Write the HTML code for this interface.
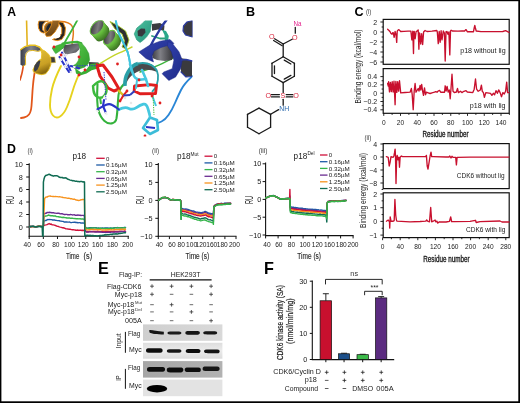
<!DOCTYPE html>
<html><head><meta charset="utf-8"><style>
html,body{margin:0;padding:0;background:#fff;}
svg{display:block;font-family:"Liberation Sans", sans-serif;will-change:transform;}
text{-webkit-font-smoothing:antialiased;}
</style></head><body>
<svg width="520" height="403" viewBox="0 0 520 403">
<rect width="520" height="403" fill="#fff"/>
<text x="7.20" y="15.80" font-size="12.2" text-anchor="start" fill="#000" font-weight="bold" >A</text>
<text x="246.00" y="16.00" font-size="12.6" text-anchor="start" fill="#000" font-weight="bold" >B</text>
<text x="354.40" y="16.00" font-size="12.6" text-anchor="start" fill="#000" font-weight="bold" >C</text>
<text x="6.90" y="152.90" font-size="12.4" text-anchor="start" fill="#000" font-weight="bold" >D</text>
<text x="98.00" y="274.10" font-size="16.3" text-anchor="start" fill="#000" font-weight="bold" >E</text>
<text x="264.10" y="273.90" font-size="16.2" text-anchor="start" fill="#000" font-weight="bold" >F</text>
<rect x="383.20" y="19.40" width="126.00" height="44.90" fill="none" stroke="#111" stroke-width="1.2" />
<line x1="380.40" y1="22.00" x2="383.20" y2="22.00" stroke="#111" stroke-width="0.9" />
<line x1="380.40" y1="32.00" x2="383.20" y2="32.00" stroke="#111" stroke-width="0.9" />
<line x1="380.40" y1="42.00" x2="383.20" y2="42.00" stroke="#111" stroke-width="0.9" />
<line x1="380.40" y1="52.00" x2="383.20" y2="52.00" stroke="#111" stroke-width="0.9" />
<line x1="380.40" y1="62.00" x2="383.20" y2="62.00" stroke="#111" stroke-width="0.9" />
<line x1="381.60" y1="27.00" x2="383.20" y2="27.00" stroke="#111" stroke-width="0.9" />
<line x1="381.60" y1="37.00" x2="383.20" y2="37.00" stroke="#111" stroke-width="0.9" />
<line x1="381.60" y1="47.00" x2="383.20" y2="47.00" stroke="#111" stroke-width="0.9" />
<line x1="381.60" y1="57.00" x2="383.20" y2="57.00" stroke="#111" stroke-width="0.9" />
<text x="377.20" y="24.52" font-size="7.0" text-anchor="end" fill="#1a1a1a" >2</text>
<text x="377.20" y="34.52" font-size="7.0" text-anchor="end" fill="#1a1a1a" >0</text>
<text x="377.20" y="44.52" font-size="7.0" text-anchor="end" fill="#1a1a1a" >−2</text>
<text x="377.20" y="54.52" font-size="7.0" text-anchor="end" fill="#1a1a1a" >−4</text>
<text x="377.20" y="64.52" font-size="7.0" text-anchor="end" fill="#1a1a1a" >−6</text>
<rect x="383.20" y="68.60" width="126.00" height="44.70" fill="none" stroke="#111" stroke-width="1.2" />
<line x1="380.40" y1="76.60" x2="383.20" y2="76.60" stroke="#111" stroke-width="0.9" />
<line x1="380.40" y1="84.90" x2="383.20" y2="84.90" stroke="#111" stroke-width="0.9" />
<line x1="380.40" y1="93.20" x2="383.20" y2="93.20" stroke="#111" stroke-width="0.9" />
<line x1="380.40" y1="101.50" x2="383.20" y2="101.50" stroke="#111" stroke-width="0.9" />
<line x1="380.40" y1="109.80" x2="383.20" y2="109.80" stroke="#111" stroke-width="0.9" />
<line x1="381.60" y1="80.75" x2="383.20" y2="80.75" stroke="#111" stroke-width="0.9" />
<line x1="381.60" y1="89.05" x2="383.20" y2="89.05" stroke="#111" stroke-width="0.9" />
<line x1="381.60" y1="97.35" x2="383.20" y2="97.35" stroke="#111" stroke-width="0.9" />
<line x1="381.60" y1="105.65" x2="383.20" y2="105.65" stroke="#111" stroke-width="0.9" />
<text x="377.20" y="79.12" font-size="7.0" text-anchor="end" fill="#1a1a1a" >0.4</text>
<text x="377.20" y="87.42" font-size="7.0" text-anchor="end" fill="#1a1a1a" >0.2</text>
<text x="377.20" y="95.72" font-size="7.0" text-anchor="end" fill="#1a1a1a" >0</text>
<text x="377.20" y="104.02" font-size="7.0" text-anchor="end" fill="#1a1a1a" >−0.2</text>
<text x="377.20" y="112.32" font-size="7.0" text-anchor="end" fill="#1a1a1a" >−0.4</text>
<line x1="383.75" y1="113.30" x2="383.75" y2="115.90" stroke="#111" stroke-width="0.9" />
<line x1="392.12" y1="113.30" x2="392.12" y2="114.90" stroke="#111" stroke-width="0.9" />
<line x1="400.50" y1="113.30" x2="400.50" y2="115.90" stroke="#111" stroke-width="0.9" />
<line x1="408.88" y1="113.30" x2="408.88" y2="114.90" stroke="#111" stroke-width="0.9" />
<line x1="417.25" y1="113.30" x2="417.25" y2="115.90" stroke="#111" stroke-width="0.9" />
<line x1="425.62" y1="113.30" x2="425.62" y2="114.90" stroke="#111" stroke-width="0.9" />
<line x1="434.00" y1="113.30" x2="434.00" y2="115.90" stroke="#111" stroke-width="0.9" />
<line x1="442.38" y1="113.30" x2="442.38" y2="114.90" stroke="#111" stroke-width="0.9" />
<line x1="450.75" y1="113.30" x2="450.75" y2="115.90" stroke="#111" stroke-width="0.9" />
<line x1="459.12" y1="113.30" x2="459.12" y2="114.90" stroke="#111" stroke-width="0.9" />
<line x1="467.50" y1="113.30" x2="467.50" y2="115.90" stroke="#111" stroke-width="0.9" />
<line x1="475.88" y1="113.30" x2="475.88" y2="114.90" stroke="#111" stroke-width="0.9" />
<line x1="484.25" y1="113.30" x2="484.25" y2="115.90" stroke="#111" stroke-width="0.9" />
<line x1="492.62" y1="113.30" x2="492.62" y2="114.90" stroke="#111" stroke-width="0.9" />
<line x1="501.00" y1="113.30" x2="501.00" y2="115.90" stroke="#111" stroke-width="0.9" />
<line x1="509.38" y1="113.30" x2="509.38" y2="114.90" stroke="#111" stroke-width="0.9" />
<text x="383.75" y="124.80" font-size="6.6" text-anchor="middle" fill="#222" >0</text>
<text x="400.50" y="124.80" font-size="6.6" text-anchor="middle" fill="#222" >20</text>
<text x="417.25" y="124.80" font-size="6.6" text-anchor="middle" fill="#222" >40</text>
<text x="434.00" y="124.80" font-size="6.6" text-anchor="middle" fill="#222" >60</text>
<text x="450.75" y="124.80" font-size="6.6" text-anchor="middle" fill="#222" >80</text>
<text x="467.50" y="124.80" font-size="6.6" text-anchor="middle" fill="#222" >100</text>
<text x="484.25" y="124.80" font-size="6.6" text-anchor="middle" fill="#222" >120</text>
<text x="501.00" y="124.80" font-size="6.6" text-anchor="middle" fill="#222" >140</text>
<text x="445.60" y="137.40" font-size="9" text-anchor="middle" fill="#1a1a1a" textLength="46.2" lengthAdjust="spacingAndGlyphs" stroke="#1a1a1a" stroke-width="0.35">Residue number</text>
<text x="361.00" y="66.50" font-size="8.2" text-anchor="middle" fill="#222" textLength="74" lengthAdjust="spacingAndGlyphs" transform="rotate(-90 361.00 66.50)" >Binding energy (kcal/mol)</text>
<text x="366.00" y="14.40" font-size="7.2" text-anchor="start" fill="#3a3a3a" textLength="5.3" lengthAdjust="spacingAndGlyphs" >(i)</text>
<text x="505.60" y="52.80" font-size="7.1" text-anchor="end" fill="#222" textLength="45.4" lengthAdjust="spacingAndGlyphs" >p18 without lig</text>
<text x="505.60" y="108.20" font-size="7.1" text-anchor="end" fill="#222" textLength="35.8" lengthAdjust="spacingAndGlyphs" >p18 with lig</text>
<rect x="383.20" y="143.60" width="126.00" height="45.00" fill="none" stroke="#111" stroke-width="1.2" />
<line x1="380.40" y1="144.00" x2="383.20" y2="144.00" stroke="#111" stroke-width="0.9" />
<line x1="380.40" y1="157.00" x2="383.20" y2="157.00" stroke="#111" stroke-width="0.9" />
<line x1="380.40" y1="170.00" x2="383.20" y2="170.00" stroke="#111" stroke-width="0.9" />
<line x1="380.40" y1="183.00" x2="383.20" y2="183.00" stroke="#111" stroke-width="0.9" />
<line x1="381.60" y1="150.50" x2="383.20" y2="150.50" stroke="#111" stroke-width="0.9" />
<line x1="381.60" y1="163.50" x2="383.20" y2="163.50" stroke="#111" stroke-width="0.9" />
<line x1="381.60" y1="176.50" x2="383.20" y2="176.50" stroke="#111" stroke-width="0.9" />
<line x1="381.60" y1="189.50" x2="383.20" y2="189.50" stroke="#111" stroke-width="0.9" />
<text x="377.20" y="146.52" font-size="7.0" text-anchor="end" fill="#1a1a1a" >4</text>
<text x="377.20" y="159.52" font-size="7.0" text-anchor="end" fill="#1a1a1a" >0</text>
<text x="377.20" y="172.52" font-size="7.0" text-anchor="end" fill="#1a1a1a" >−4</text>
<text x="377.20" y="185.52" font-size="7.0" text-anchor="end" fill="#1a1a1a" >−8</text>
<rect x="383.20" y="192.80" width="126.00" height="44.80" fill="none" stroke="#111" stroke-width="1.2" />
<line x1="380.40" y1="194.00" x2="383.20" y2="194.00" stroke="#111" stroke-width="0.9" />
<line x1="380.40" y1="207.70" x2="383.20" y2="207.70" stroke="#111" stroke-width="0.9" />
<line x1="380.40" y1="221.40" x2="383.20" y2="221.40" stroke="#111" stroke-width="0.9" />
<line x1="380.40" y1="235.10" x2="383.20" y2="235.10" stroke="#111" stroke-width="0.9" />
<line x1="381.60" y1="200.85" x2="383.20" y2="200.85" stroke="#111" stroke-width="0.9" />
<line x1="381.60" y1="214.55" x2="383.20" y2="214.55" stroke="#111" stroke-width="0.9" />
<line x1="381.60" y1="228.25" x2="383.20" y2="228.25" stroke="#111" stroke-width="0.9" />
<text x="377.20" y="196.52" font-size="7.0" text-anchor="end" fill="#1a1a1a" >2</text>
<text x="377.20" y="210.22" font-size="7.0" text-anchor="end" fill="#1a1a1a" >1</text>
<text x="377.20" y="223.92" font-size="7.0" text-anchor="end" fill="#1a1a1a" >0</text>
<text x="377.20" y="237.62" font-size="7.0" text-anchor="end" fill="#1a1a1a" >−1</text>
<line x1="382.60" y1="237.60" x2="382.60" y2="240.20" stroke="#111" stroke-width="0.9" />
<line x1="391.40" y1="237.60" x2="391.40" y2="239.20" stroke="#111" stroke-width="0.9" />
<line x1="400.20" y1="237.60" x2="400.20" y2="240.20" stroke="#111" stroke-width="0.9" />
<line x1="409.00" y1="237.60" x2="409.00" y2="239.20" stroke="#111" stroke-width="0.9" />
<line x1="417.80" y1="237.60" x2="417.80" y2="240.20" stroke="#111" stroke-width="0.9" />
<line x1="426.60" y1="237.60" x2="426.60" y2="239.20" stroke="#111" stroke-width="0.9" />
<line x1="435.40" y1="237.60" x2="435.40" y2="240.20" stroke="#111" stroke-width="0.9" />
<line x1="444.20" y1="237.60" x2="444.20" y2="239.20" stroke="#111" stroke-width="0.9" />
<line x1="453.00" y1="237.60" x2="453.00" y2="240.20" stroke="#111" stroke-width="0.9" />
<line x1="461.80" y1="237.60" x2="461.80" y2="239.20" stroke="#111" stroke-width="0.9" />
<line x1="470.60" y1="237.60" x2="470.60" y2="240.20" stroke="#111" stroke-width="0.9" />
<line x1="479.40" y1="237.60" x2="479.40" y2="239.20" stroke="#111" stroke-width="0.9" />
<line x1="488.20" y1="237.60" x2="488.20" y2="240.20" stroke="#111" stroke-width="0.9" />
<line x1="497.00" y1="237.60" x2="497.00" y2="239.20" stroke="#111" stroke-width="0.9" />
<line x1="505.80" y1="237.60" x2="505.80" y2="240.20" stroke="#111" stroke-width="0.9" />
<text x="382.60" y="249.40" font-size="6.6" text-anchor="middle" fill="#222" >0</text>
<text x="400.20" y="249.40" font-size="6.6" text-anchor="middle" fill="#222" >40</text>
<text x="417.80" y="249.40" font-size="6.6" text-anchor="middle" fill="#222" >80</text>
<text x="435.40" y="249.40" font-size="6.6" text-anchor="middle" fill="#222" >120</text>
<text x="453.00" y="249.40" font-size="6.6" text-anchor="middle" fill="#222" >160</text>
<text x="470.60" y="249.40" font-size="6.6" text-anchor="middle" fill="#222" >200</text>
<text x="488.20" y="249.40" font-size="6.6" text-anchor="middle" fill="#222" >240</text>
<text x="505.80" y="249.40" font-size="6.6" text-anchor="middle" fill="#222" >280</text>
<text x="446.40" y="262.00" font-size="9" text-anchor="middle" fill="#1a1a1a" textLength="46.2" lengthAdjust="spacingAndGlyphs" stroke="#1a1a1a" stroke-width="0.35">Residue number</text>
<text x="365.60" y="190.50" font-size="8.2" text-anchor="middle" fill="#222" textLength="75" lengthAdjust="spacingAndGlyphs" transform="rotate(-90 365.60 190.50)" >Binding energy (kcal/mol)</text>
<text x="364.50" y="140.40" font-size="7.2" text-anchor="start" fill="#3a3a3a" textLength="6.8" lengthAdjust="spacingAndGlyphs" >(ii)</text>
<text x="504.60" y="177.80" font-size="7.1" text-anchor="end" fill="#222" textLength="47.8" lengthAdjust="spacingAndGlyphs" >CDK6 without lig</text>
<text x="505.30" y="232.20" font-size="7.1" text-anchor="end" fill="#222" textLength="39.3" lengthAdjust="spacingAndGlyphs" >CDK6 with lig</text>
<polyline points="387.60,29.30 389.00,30.50 390.10,31.80 391.00,33.50 392.00,34.20 392.80,32.60 393.20,32.73 394.15,37.37 395.10,31.38 396.05,35.21 396.70,42.40 397.20,31.50 397.60,30.50 398.90,29.60 400.70,31.50 404.00,31.30 408.00,31.20 410.50,31.10 410.90,31.06 411.85,39.86 412.80,31.25 413.50,53.60 413.90,33.00 414.20,31.35 415.15,38.76 416.10,31.59 417.00,31.10 418.20,29.90 418.90,49.20 419.40,33.00 419.80,33.43 420.75,44.05 421.70,33.69 422.65,44.56 423.60,32.00 425.10,30.50 427.00,31.50 432.00,31.20 436.80,30.50 437.30,31.89 438.25,43.65 439.20,31.43 440.15,42.25 441.10,30.70 442.00,39.90 443.30,31.00 444.40,33.00 445.20,61.00 446.00,31.70 446.60,32.00 447.00,31.49 447.95,34.38 448.90,31.98 449.80,54.90 450.50,31.00 451.20,30.30 452.30,31.00 458.00,31.20 462.00,30.90 464.60,31.00 466.00,29.60 467.30,31.70 473.50,31.70 474.20,28.00 474.80,25.50 475.40,28.00 476.20,31.00 481.00,31.70 490.00,31.60 500.00,31.70 502.80,31.50 505.60,30.60 509.00,32.30" fill="none" stroke="#c8102e" stroke-width="1.35" stroke-linejoin="round" stroke-linecap="round" />
<polyline points="387.60,83.50 388.30,86.00 388.60,81.68 389.50,91.90 390.40,82.39 391.30,91.66 392.20,81.76 393.10,91.97 394.00,81.28 395.10,104.70 395.60,86.00 395.90,81.41 396.80,92.44 397.70,81.70 398.60,91.16 399.50,80.72 400.70,92.90 405.00,92.50 410.10,92.20 411.40,88.50 412.20,94.70 413.20,109.70 414.20,91.00 415.10,83.50 416.00,92.20 417.00,90.50 418.20,88.50 419.00,91.00 420.10,85.40 420.80,90.00 421.70,84.50 422.60,91.00 423.50,95.40 424.50,87.90 425.50,94.70 426.40,92.20 428.20,92.80 430.10,93.50 432.00,92.80 434.50,92.20 435.70,91.60 437.00,92.20 438.20,91.00 439.50,90.40 440.70,92.20 444.50,92.20 445.20,85.80 446.10,91.00 447.10,86.50 448.20,92.00 449.30,90.00 450.20,98.80 450.90,90.00 452.00,74.20 453.00,91.30 454.30,92.60 456.40,92.00 457.50,88.50 458.40,92.60 460.50,91.30 461.90,92.60 463.90,91.30 466.00,90.60 467.30,92.00 472.80,92.60 474.20,89.20 475.50,79.00 476.60,89.20 478.20,91.30 480.30,90.00 481.40,85.10 482.30,91.30 483.40,92.60 484.40,97.40 485.80,92.60 490.50,93.30 491.90,95.40 493.30,93.30 494.60,94.70 496.00,90.60 497.40,93.30 498.70,89.90 500.10,92.60 501.50,96.70 502.80,92.60 504.20,94.00 505.60,91.30 506.70,82.10 507.60,92.60 509.00,92.60" fill="none" stroke="#c8102e" stroke-width="1.35" stroke-linejoin="round" stroke-linecap="round" />
<polyline points="386.40,156.60 388.20,157.30 389.20,166.00 390.10,162.30 391.00,156.60 393.20,157.30 393.90,156.00 394.50,152.90 395.10,149.10 395.50,156.00 396.00,183.50 396.70,157.30 397.20,155.40 398.00,159.80 398.90,157.30 399.50,167.20 400.10,157.30 401.40,156.00 402.60,156.60 420.00,156.60 425.70,156.60 426.40,155.40 427.20,166.00 428.00,169.10 428.90,163.50 430.10,156.00 431.00,152.20 431.70,156.60 433.20,156.60 446.00,157.00 449.00,157.00 449.80,156.00 451.00,158.00 452.00,156.30 453.00,157.40 455.70,157.40 456.40,164.90 457.10,157.40 470.00,157.20 509.00,157.10" fill="none" stroke="#c8102e" stroke-width="1.35" stroke-linejoin="round" stroke-linecap="round" />
<polyline points="386.40,221.20 388.20,220.00 389.50,222.00 389.70,228.10 390.20,216.90 391.00,221.20 393.20,221.20 394.20,220.60 394.90,199.40 395.70,215.00 396.40,220.00 397.00,221.20 410.00,221.80 420.00,221.50 425.70,221.20 426.70,220.00 427.60,221.20 429.50,221.80 430.70,207.50 431.70,221.80 433.20,221.20 435.10,220.00 435.70,221.80 437.00,221.20 437.60,223.10 439.50,221.80 446.00,222.00 449.50,221.30 450.70,217.00 451.60,221.50 455.00,221.70 470.00,221.40 475.50,220.30 476.20,222.50 480.00,221.70 500.00,221.00 502.00,222.00 509.00,222.00" fill="none" stroke="#c8102e" stroke-width="1.35" stroke-linejoin="round" stroke-linecap="round" />
<text x="27.50" y="153.20" font-size="7.5" text-anchor="start" fill="#3a3a3a" textLength="5.4" lengthAdjust="spacingAndGlyphs" >(i)</text>
<text x="72.40" y="159.00" font-size="8.2" text-anchor="start" fill="#222" >p18</text>
<line x1="29.20" y1="163.20" x2="29.20" y2="236.70" stroke="#111" stroke-width="1.1" />
<line x1="28.70" y1="236.20" x2="128.90" y2="236.20" stroke="#111" stroke-width="1.1" />
<line x1="26.20" y1="164.50" x2="29.20" y2="164.50" stroke="#111" stroke-width="1.0" />
<text x="22.80" y="167.10" font-size="7.3" text-anchor="end" fill="#1a1a1a" >10</text>
<line x1="26.20" y1="177.00" x2="29.20" y2="177.00" stroke="#111" stroke-width="1.0" />
<text x="22.80" y="179.60" font-size="7.3" text-anchor="end" fill="#1a1a1a" >8</text>
<line x1="26.20" y1="189.50" x2="29.20" y2="189.50" stroke="#111" stroke-width="1.0" />
<text x="22.80" y="192.10" font-size="7.3" text-anchor="end" fill="#1a1a1a" >6</text>
<line x1="26.20" y1="202.00" x2="29.20" y2="202.00" stroke="#111" stroke-width="1.0" />
<text x="22.80" y="204.60" font-size="7.3" text-anchor="end" fill="#1a1a1a" >4</text>
<line x1="26.20" y1="214.50" x2="29.20" y2="214.50" stroke="#111" stroke-width="1.0" />
<text x="22.80" y="217.10" font-size="7.3" text-anchor="end" fill="#1a1a1a" >2</text>
<line x1="26.20" y1="227.00" x2="29.20" y2="227.00" stroke="#111" stroke-width="1.0" />
<text x="22.80" y="229.60" font-size="7.3" text-anchor="end" fill="#1a1a1a" >0</text>
<line x1="29.20" y1="236.20" x2="29.20" y2="239.00" stroke="#111" stroke-width="1.0" />
<line x1="43.34" y1="236.20" x2="43.34" y2="239.00" stroke="#111" stroke-width="1.0" />
<line x1="57.48" y1="236.20" x2="57.48" y2="239.00" stroke="#111" stroke-width="1.0" />
<line x1="71.62" y1="236.20" x2="71.62" y2="239.00" stroke="#111" stroke-width="1.0" />
<line x1="85.76" y1="236.20" x2="85.76" y2="239.00" stroke="#111" stroke-width="1.0" />
<line x1="99.90" y1="236.20" x2="99.90" y2="239.00" stroke="#111" stroke-width="1.0" />
<line x1="114.04" y1="236.20" x2="114.04" y2="239.00" stroke="#111" stroke-width="1.0" />
<line x1="128.18" y1="236.20" x2="128.18" y2="239.00" stroke="#111" stroke-width="1.0" />
<text x="27.20" y="246.70" font-size="6.6" text-anchor="middle" fill="#1a1a1a" >40</text>
<text x="41.00" y="246.70" font-size="6.6" text-anchor="middle" fill="#1a1a1a" >60</text>
<text x="55.80" y="246.70" font-size="6.6" text-anchor="middle" fill="#1a1a1a" >80</text>
<text x="69.50" y="246.70" font-size="6.6" text-anchor="middle" fill="#1a1a1a" >100</text>
<text x="83.30" y="246.70" font-size="6.6" text-anchor="middle" fill="#1a1a1a" >120</text>
<text x="97.60" y="246.70" font-size="6.6" text-anchor="middle" fill="#1a1a1a" >160</text>
<text x="112.40" y="246.70" font-size="6.6" text-anchor="middle" fill="#1a1a1a" >180</text>
<text x="127.70" y="246.70" font-size="6.6" text-anchor="middle" fill="#1a1a1a" >200</text>
<text x="13.80" y="200.00" font-size="10.4" text-anchor="middle" fill="#1a1a1a" textLength="8.2" lengthAdjust="spacingAndGlyphs" transform="rotate(-90 13.80 200.00)" >RU</text>
<text x="66.00" y="258.60" font-size="9.2" text-anchor="start" fill="#2a2a2a" textLength="13.3" lengthAdjust="spacingAndGlyphs" stroke="#2a2a2a" stroke-width="0.15">Time</text>
<text x="83.60" y="258.60" font-size="9.2" text-anchor="start" fill="#2a2a2a" textLength="8.5" lengthAdjust="spacingAndGlyphs" stroke="#2a2a2a" stroke-width="0.15">(s)</text>
<line x1="96.20" y1="158.30" x2="104.70" y2="158.30" stroke="#d0103a" stroke-width="1.3" />
<text x="105.90" y="160.50" font-size="6.0" text-anchor="start" fill="#222" >0</text>
<line x1="96.20" y1="165.00" x2="104.70" y2="165.00" stroke="#1d5aa6" stroke-width="1.3" />
<text x="105.90" y="167.20" font-size="6.0" text-anchor="start" fill="#222" textLength="21" lengthAdjust="spacingAndGlyphs" >0.16µM</text>
<line x1="96.20" y1="171.70" x2="104.70" y2="171.70" stroke="#35b54a" stroke-width="1.3" />
<text x="105.90" y="173.90" font-size="6.0" text-anchor="start" fill="#222" textLength="21" lengthAdjust="spacingAndGlyphs" >0.32µM</text>
<line x1="96.20" y1="178.40" x2="104.70" y2="178.40" stroke="#6a2c91" stroke-width="1.3" />
<text x="105.90" y="180.60" font-size="6.0" text-anchor="start" fill="#222" textLength="21" lengthAdjust="spacingAndGlyphs" >0.65µM</text>
<line x1="96.20" y1="185.10" x2="104.70" y2="185.10" stroke="#f7931e" stroke-width="1.3" />
<text x="105.90" y="187.30" font-size="6.0" text-anchor="start" fill="#222" textLength="21" lengthAdjust="spacingAndGlyphs" >1.25µM</text>
<line x1="96.20" y1="191.80" x2="104.70" y2="191.80" stroke="#0f6b52" stroke-width="1.3" />
<text x="105.90" y="194.00" font-size="6.0" text-anchor="start" fill="#222" textLength="21" lengthAdjust="spacingAndGlyphs" >2.50µM</text>
<text x="152.00" y="153.40" font-size="7.5" text-anchor="start" fill="#3a3a3a" textLength="7.1" lengthAdjust="spacingAndGlyphs" >(ii)</text>
<text x="177.00" y="159.00" font-size="8.2" text-anchor="start" fill="#222" >p18</text>
<text x="190.60" y="155.60" font-size="4.8" text-anchor="start" fill="#222" >Mut</text>
<line x1="158.30" y1="163.00" x2="158.30" y2="236.80" stroke="#111" stroke-width="1.1" />
<line x1="157.80" y1="236.30" x2="236.50" y2="236.30" stroke="#111" stroke-width="1.1" />
<line x1="155.30" y1="164.50" x2="158.30" y2="164.50" stroke="#111" stroke-width="1.0" />
<text x="152.60" y="167.10" font-size="7.3" text-anchor="end" fill="#1a1a1a" >10</text>
<line x1="155.30" y1="182.40" x2="158.30" y2="182.40" stroke="#111" stroke-width="1.0" />
<text x="152.60" y="185.00" font-size="7.3" text-anchor="end" fill="#1a1a1a" >5</text>
<line x1="155.30" y1="200.40" x2="158.30" y2="200.40" stroke="#111" stroke-width="1.0" />
<text x="152.60" y="203.00" font-size="7.3" text-anchor="end" fill="#1a1a1a" >0</text>
<line x1="155.30" y1="218.30" x2="158.30" y2="218.30" stroke="#111" stroke-width="1.0" />
<text x="152.60" y="220.90" font-size="7.3" text-anchor="end" fill="#1a1a1a" >−5</text>
<line x1="155.30" y1="236.30" x2="158.30" y2="236.30" stroke="#111" stroke-width="1.0" />
<text x="152.60" y="238.90" font-size="7.3" text-anchor="end" fill="#1a1a1a" >−10</text>
<line x1="158.30" y1="236.30" x2="158.30" y2="239.10" stroke="#111" stroke-width="1.0" />
<line x1="169.40" y1="236.30" x2="169.40" y2="239.10" stroke="#111" stroke-width="1.0" />
<line x1="180.50" y1="236.30" x2="180.50" y2="239.10" stroke="#111" stroke-width="1.0" />
<line x1="191.60" y1="236.30" x2="191.60" y2="239.10" stroke="#111" stroke-width="1.0" />
<line x1="202.70" y1="236.30" x2="202.70" y2="239.10" stroke="#111" stroke-width="1.0" />
<line x1="213.80" y1="236.30" x2="213.80" y2="239.10" stroke="#111" stroke-width="1.0" />
<line x1="224.90" y1="236.30" x2="224.90" y2="239.10" stroke="#111" stroke-width="1.0" />
<line x1="236.00" y1="236.30" x2="236.00" y2="239.10" stroke="#111" stroke-width="1.0" />
<text x="159.30" y="246.70" font-size="6.6" text-anchor="middle" fill="#1a1a1a" >40</text>
<text x="172.00" y="246.70" font-size="6.6" text-anchor="middle" fill="#1a1a1a" >60</text>
<text x="181.20" y="246.70" font-size="6.6" text-anchor="middle" fill="#1a1a1a" >80</text>
<text x="191.60" y="246.70" font-size="6.6" text-anchor="middle" fill="#1a1a1a" >100</text>
<text x="201.00" y="246.70" font-size="6.6" text-anchor="middle" fill="#1a1a1a" >120</text>
<text x="211.80" y="246.70" font-size="6.6" text-anchor="middle" fill="#1a1a1a" >160</text>
<text x="222.30" y="246.70" font-size="6.6" text-anchor="middle" fill="#1a1a1a" >180</text>
<text x="234.40" y="246.70" font-size="6.6" text-anchor="middle" fill="#1a1a1a" >200</text>
<text x="144.10" y="200.00" font-size="10.4" text-anchor="middle" fill="#1a1a1a" textLength="8.2" lengthAdjust="spacingAndGlyphs" transform="rotate(-90 144.10 200.00)" >RU</text>
<text x="197.30" y="258.60" font-size="9.2" text-anchor="middle" fill="#2a2a2a" textLength="23.7" lengthAdjust="spacingAndGlyphs" stroke="#2a2a2a" stroke-width="0.15">Time (s)</text>
<line x1="204.50" y1="156.20" x2="212.50" y2="156.20" stroke="#d0103a" stroke-width="1.3" />
<text x="213.80" y="158.40" font-size="6.0" text-anchor="start" fill="#222" >0</text>
<line x1="204.50" y1="162.90" x2="212.50" y2="162.90" stroke="#1d5aa6" stroke-width="1.3" />
<text x="213.80" y="165.10" font-size="6.0" text-anchor="start" fill="#222" textLength="21" lengthAdjust="spacingAndGlyphs" >0.16µM</text>
<line x1="204.50" y1="169.60" x2="212.50" y2="169.60" stroke="#35b54a" stroke-width="1.3" />
<text x="213.80" y="171.80" font-size="6.0" text-anchor="start" fill="#222" textLength="21" lengthAdjust="spacingAndGlyphs" >0.32µM</text>
<line x1="204.50" y1="176.30" x2="212.50" y2="176.30" stroke="#6a2c91" stroke-width="1.3" />
<text x="213.80" y="178.50" font-size="6.0" text-anchor="start" fill="#222" textLength="21" lengthAdjust="spacingAndGlyphs" >0.65µM</text>
<line x1="204.50" y1="183.00" x2="212.50" y2="183.00" stroke="#f7931e" stroke-width="1.3" />
<text x="213.80" y="185.20" font-size="6.0" text-anchor="start" fill="#222" textLength="21" lengthAdjust="spacingAndGlyphs" >1.25µM</text>
<line x1="204.50" y1="189.70" x2="212.50" y2="189.70" stroke="#0f6b52" stroke-width="1.3" />
<text x="213.80" y="191.90" font-size="6.0" text-anchor="start" fill="#222" textLength="21" lengthAdjust="spacingAndGlyphs" >2.50µM</text>
<text x="258.70" y="153.40" font-size="7.5" text-anchor="start" fill="#3a3a3a" textLength="8.8" lengthAdjust="spacingAndGlyphs" >(iii)</text>
<text x="293.60" y="158.80" font-size="8.2" text-anchor="start" fill="#222" >p18</text>
<text x="307.40" y="155.30" font-size="4.8" text-anchor="start" fill="#222" >Del</text>
<line x1="265.60" y1="162.50" x2="265.60" y2="236.10" stroke="#111" stroke-width="1.1" />
<line x1="265.10" y1="235.60" x2="353.60" y2="235.60" stroke="#111" stroke-width="1.1" />
<line x1="262.60" y1="163.80" x2="265.60" y2="163.80" stroke="#111" stroke-width="1.0" />
<text x="261.30" y="166.40" font-size="7.3" text-anchor="end" fill="#1a1a1a" >10</text>
<line x1="262.60" y1="181.60" x2="265.60" y2="181.60" stroke="#111" stroke-width="1.0" />
<text x="261.30" y="184.20" font-size="7.3" text-anchor="end" fill="#1a1a1a" >5</text>
<line x1="262.60" y1="199.40" x2="265.60" y2="199.40" stroke="#111" stroke-width="1.0" />
<text x="261.30" y="202.00" font-size="7.3" text-anchor="end" fill="#1a1a1a" >0</text>
<line x1="262.60" y1="217.20" x2="265.60" y2="217.20" stroke="#111" stroke-width="1.0" />
<text x="261.30" y="219.80" font-size="7.3" text-anchor="end" fill="#1a1a1a" >−5</text>
<line x1="262.60" y1="235.00" x2="265.60" y2="235.00" stroke="#111" stroke-width="1.0" />
<text x="261.30" y="237.60" font-size="7.3" text-anchor="end" fill="#1a1a1a" >−10</text>
<line x1="265.60" y1="235.60" x2="265.60" y2="238.40" stroke="#111" stroke-width="1.0" />
<line x1="278.10" y1="235.60" x2="278.10" y2="238.40" stroke="#111" stroke-width="1.0" />
<line x1="290.60" y1="235.60" x2="290.60" y2="238.40" stroke="#111" stroke-width="1.0" />
<line x1="303.10" y1="235.60" x2="303.10" y2="238.40" stroke="#111" stroke-width="1.0" />
<line x1="315.60" y1="235.60" x2="315.60" y2="238.40" stroke="#111" stroke-width="1.0" />
<line x1="328.10" y1="235.60" x2="328.10" y2="238.40" stroke="#111" stroke-width="1.0" />
<line x1="340.60" y1="235.60" x2="340.60" y2="238.40" stroke="#111" stroke-width="1.0" />
<line x1="353.10" y1="235.60" x2="353.10" y2="238.40" stroke="#111" stroke-width="1.0" />
<text x="267.00" y="246.70" font-size="6.6" text-anchor="middle" fill="#1a1a1a" >40</text>
<text x="278.80" y="246.70" font-size="6.6" text-anchor="middle" fill="#1a1a1a" >60</text>
<text x="291.50" y="246.70" font-size="6.6" text-anchor="middle" fill="#1a1a1a" >80</text>
<text x="304.90" y="246.70" font-size="6.6" text-anchor="middle" fill="#1a1a1a" >100</text>
<text x="317.30" y="246.70" font-size="6.6" text-anchor="middle" fill="#1a1a1a" >120</text>
<text x="329.40" y="246.70" font-size="6.6" text-anchor="middle" fill="#1a1a1a" >160</text>
<text x="341.30" y="246.70" font-size="6.6" text-anchor="middle" fill="#1a1a1a" >180</text>
<text x="353.00" y="246.70" font-size="6.6" text-anchor="middle" fill="#1a1a1a" >200</text>
<text x="253.00" y="200.00" font-size="10.4" text-anchor="middle" fill="#1a1a1a" textLength="8.2" lengthAdjust="spacingAndGlyphs" transform="rotate(-90 253.00 200.00)" >RU</text>
<text x="309.20" y="258.60" font-size="9.2" text-anchor="middle" fill="#2a2a2a" textLength="23.7" lengthAdjust="spacingAndGlyphs" stroke="#2a2a2a" stroke-width="0.15">Time (s)</text>
<line x1="320.00" y1="155.00" x2="327.50" y2="155.00" stroke="#d0103a" stroke-width="1.3" />
<text x="328.80" y="157.20" font-size="6.0" text-anchor="start" fill="#222" >0</text>
<line x1="320.00" y1="161.70" x2="327.50" y2="161.70" stroke="#1d5aa6" stroke-width="1.3" />
<text x="328.80" y="163.90" font-size="6.0" text-anchor="start" fill="#222" textLength="21" lengthAdjust="spacingAndGlyphs" >0.16µM</text>
<line x1="320.00" y1="168.40" x2="327.50" y2="168.40" stroke="#35b54a" stroke-width="1.3" />
<text x="328.80" y="170.60" font-size="6.0" text-anchor="start" fill="#222" textLength="21" lengthAdjust="spacingAndGlyphs" >0.32µM</text>
<line x1="320.00" y1="175.10" x2="327.50" y2="175.10" stroke="#6a2c91" stroke-width="1.3" />
<text x="328.80" y="177.30" font-size="6.0" text-anchor="start" fill="#222" textLength="21" lengthAdjust="spacingAndGlyphs" >0.65µM</text>
<line x1="320.00" y1="181.80" x2="327.50" y2="181.80" stroke="#f7931e" stroke-width="1.3" />
<text x="328.80" y="184.00" font-size="6.0" text-anchor="start" fill="#222" textLength="21" lengthAdjust="spacingAndGlyphs" >1.25µM</text>
<line x1="320.00" y1="188.50" x2="327.50" y2="188.50" stroke="#0f6b52" stroke-width="1.3" />
<text x="328.80" y="190.70" font-size="6.0" text-anchor="start" fill="#222" textLength="21" lengthAdjust="spacingAndGlyphs" >2.50µM</text>
<polyline points="29.60,226.71 30.73,226.49 31.87,226.61 33.00,226.19 34.00,226.58 35.00,226.67 36.00,226.68 37.00,226.67 38.00,226.20 39.00,226.17 40.25,226.18 41.50,226.40 42.60,226.76 43.40,226.16 43.80,225.51 44.86,225.14 45.92,224.92 46.98,224.66 48.04,224.06 49.10,223.55 50.15,224.19 51.20,224.07 52.25,224.83 53.30,224.89 54.35,225.17 55.40,225.51 56.36,225.89 57.33,226.42 58.29,226.39 59.25,226.87 60.22,227.18 61.18,227.33 62.15,227.70 63.11,227.74 64.07,228.02 65.04,228.37 66.00,228.89 66.90,228.88 67.80,228.95 68.70,229.20 69.60,229.26 70.50,229.30 71.40,229.67 72.30,229.74 73.20,229.63 74.10,229.92 75.00,230.01 75.99,230.24 76.98,230.23 77.97,230.06 78.96,230.46 79.94,230.09 80.93,230.29 81.92,230.52 82.91,230.27 83.90,230.49 84.40,230.27 85.00,230.18 86.50,231.73 87.44,231.60 88.39,231.72 89.33,231.41 90.28,231.56 91.22,231.48 92.17,231.44 93.11,231.34 94.06,231.50 95.00,231.52 95.91,231.33 96.82,231.47 97.73,231.22 98.64,231.58 99.55,231.60 100.45,231.82 101.36,231.78 102.27,231.56 103.18,231.65 104.09,231.84 105.00,231.56 105.91,231.74 106.82,231.56 107.73,231.50 108.64,231.43 109.55,231.75 110.45,231.40 111.36,231.42 112.27,231.45 113.18,231.66 114.09,231.23 115.00,231.37 115.95,231.40 116.91,231.54 117.86,231.48 118.82,231.47 119.77,231.15 120.73,231.19 121.68,231.14 122.64,231.37 123.59,231.38 124.55,230.95 125.50,231.10" fill="none" stroke="#d0103a" stroke-width="1.4" stroke-linejoin="round" stroke-linecap="round" />
<polyline points="29.60,226.64 30.73,226.53 31.87,226.40 33.00,226.39 34.00,226.61 35.00,226.61 36.00,226.65 37.00,226.63 38.00,226.37 39.00,226.23 40.25,226.63 41.50,226.70 42.60,226.81 43.40,226.06 43.80,221.49 44.85,220.65 45.90,220.55 46.95,219.96 48.00,219.49 48.92,219.59 49.85,219.52 50.77,219.66 51.70,219.65 52.62,220.05 53.55,219.91 54.48,220.05 55.40,220.25 56.36,220.39 57.33,220.63 58.29,220.64 59.25,220.77 60.22,221.00 61.18,221.13 62.15,221.41 63.11,221.40 64.07,221.98 65.04,222.00 66.00,221.92 66.90,222.02 67.80,222.10 68.70,222.15 69.60,222.07 70.50,222.47 71.40,222.59 72.30,222.36 73.20,222.41 74.10,222.25 75.00,222.30 75.99,222.49 76.98,222.52 77.97,222.86 78.96,222.60 79.94,222.59 80.93,223.13 81.92,222.98 82.91,222.86 83.90,223.12 84.40,222.86 85.00,226.51 86.50,228.24 87.44,228.15 88.39,228.03 89.33,227.78 90.28,227.80 91.22,227.67 92.17,227.94 93.11,227.78 94.06,227.87 95.00,227.61 95.91,227.61 96.82,227.95 97.73,228.08 98.64,228.06 99.55,228.08 100.45,228.13 101.36,228.14 102.27,227.93 103.18,228.12 104.09,228.08 105.00,227.96 105.91,227.93 106.82,228.02 107.73,227.97 108.64,228.15 109.55,228.25 110.45,227.96 111.36,228.16 112.27,228.15 113.18,228.10 114.09,227.77 115.00,227.66 115.95,227.64 116.91,227.59 117.86,227.57 118.82,227.75 119.77,227.86 120.73,227.81 121.68,227.60 122.64,227.66 123.59,227.70 124.55,227.32 125.50,227.50" fill="none" stroke="#1d5aa6" stroke-width="1.4" stroke-linejoin="round" stroke-linecap="round" />
<polyline points="29.60,226.88 30.73,226.87 31.87,226.67 33.00,226.53 34.00,226.56 35.00,226.57 36.00,227.04 37.00,226.58 38.00,226.58 39.00,226.44 40.25,226.35 41.50,226.55 42.60,227.02 43.40,226.11 43.80,217.04 44.85,216.49 45.90,215.98 46.95,215.83 48.00,215.25 48.92,215.06 49.85,215.54 50.77,215.75 51.70,215.73 52.62,215.71 53.55,215.95 54.48,215.88 55.40,215.96 56.36,216.59 57.33,216.58 58.29,216.68 59.25,217.03 60.22,216.94 61.18,217.31 62.15,217.44 63.11,217.29 64.07,217.47 65.04,217.64 66.00,217.77 66.90,218.00 67.80,217.90 68.70,218.04 69.60,217.96 70.50,218.41 71.40,218.19 72.30,218.30 73.20,218.42 74.10,218.64 75.00,218.46 75.99,218.80 76.98,218.68 77.97,218.78 78.96,218.87 79.94,218.70 80.93,219.00 81.92,218.96 82.91,218.96 83.90,219.45 84.40,219.14 85.00,226.79 86.50,228.41 87.44,228.29 88.39,228.15 89.33,228.21 90.28,228.19 91.22,228.28 92.17,227.90 93.11,228.10 94.06,227.91 95.00,227.89 95.91,228.18 96.82,228.09 97.73,228.17 98.64,228.31 99.55,228.43 100.45,228.24 101.36,228.37 102.27,228.37 103.18,228.42 104.09,228.55 105.00,228.48 105.91,228.48 106.82,228.42 107.73,228.61 108.64,228.45 109.55,228.51 110.45,228.50 111.36,228.13 112.27,228.24 113.18,228.39 114.09,228.31 115.00,227.92 115.95,227.88 116.91,228.02 117.86,227.80 118.82,227.86 119.77,227.75 120.73,228.02 121.68,228.05 122.64,228.08 123.59,227.68 124.55,227.94 125.50,227.80" fill="none" stroke="#35b54a" stroke-width="1.4" stroke-linejoin="round" stroke-linecap="round" />
<polyline points="29.60,226.88 30.73,226.49 31.87,226.72 33.00,226.63 34.00,226.43 35.00,226.96 36.00,226.85 37.00,226.66 38.00,226.68 39.00,226.37 40.25,226.23 41.50,226.57 42.60,226.81 43.40,225.92 43.80,213.85 44.85,213.51 45.90,213.31 46.95,212.56 48.00,212.43 48.92,212.45 49.85,212.31 50.77,212.54 51.70,212.76 52.62,212.78 53.55,212.63 54.48,213.17 55.40,213.14 56.36,213.37 57.33,213.08 58.29,213.29 59.25,213.32 60.22,213.82 61.18,213.70 62.15,213.77 63.11,214.05 64.07,214.43 65.04,214.52 66.00,214.38 66.90,214.37 67.80,214.81 68.70,214.69 69.60,214.80 70.50,214.54 71.40,214.58 72.30,214.94 73.20,214.86 74.10,214.74 75.00,215.22 75.99,215.12 76.98,215.26 77.97,214.96 78.96,215.40 79.94,215.06 80.93,215.51 81.92,215.37 82.91,215.36 83.90,215.53 84.40,215.71 85.00,230.58 86.50,232.01 87.44,232.18 88.39,232.00 89.33,231.90 90.28,231.90 91.22,231.81 92.17,231.85 93.11,231.87 94.06,231.84 95.00,232.03 95.91,231.84 96.82,231.99 97.73,231.88 98.64,232.01 99.55,231.89 100.45,232.05 101.36,231.98 102.27,232.38 103.18,232.33 104.09,232.20 105.00,232.39 105.91,232.58 106.82,232.13 107.73,232.45 108.64,232.22 109.55,232.22 110.45,232.35 111.36,232.09 112.27,232.11 113.18,232.17 114.09,232.28 115.00,231.92 115.95,232.14 116.91,232.05 117.86,231.99 118.82,231.84 119.77,231.79 120.73,231.61 121.68,231.62 122.64,231.57 123.59,231.87 124.55,231.61 125.50,231.70" fill="none" stroke="#6a2c91" stroke-width="1.4" stroke-linejoin="round" stroke-linecap="round" />
<polyline points="29.60,226.63 30.73,226.46 31.87,226.70 33.00,226.59 34.00,226.65 35.00,226.62 36.00,226.77 37.00,226.56 38.00,226.41 39.00,226.03 40.25,226.37 41.50,226.48 42.60,227.03 43.40,226.24 44.60,198.52 46.00,197.07 47.03,197.10 48.07,196.44 49.10,196.13 50.03,196.02 50.97,196.27 51.90,196.39 52.83,196.47 53.77,196.38 54.70,196.60 55.63,196.42 56.57,196.62 57.50,196.59 58.44,196.86 59.39,196.79 60.33,196.89 61.28,197.15 62.22,197.22 63.17,197.51 64.11,197.59 65.06,197.81 66.00,197.88 66.93,198.07 67.87,198.32 68.80,198.24 69.73,198.38 70.67,198.88 71.60,198.62 72.53,199.08 73.47,199.20 74.40,199.07 75.45,199.74 76.50,200.05 77.55,200.19 78.60,200.52 79.66,200.34 80.72,199.78 81.78,199.75 82.84,199.52 83.90,199.47 84.40,199.45 85.00,228.46 86.50,229.84 87.44,229.96 88.39,229.82 89.33,229.80 90.28,229.53 91.22,229.40 92.17,229.42 93.11,229.50 94.06,229.34 95.00,229.67 95.91,229.57 96.82,229.65 97.73,229.70 98.64,229.77 99.55,229.72 100.45,229.52 101.36,229.97 102.27,229.99 103.18,229.91 104.09,229.97 105.00,230.08 105.91,229.75 106.82,230.05 107.73,229.77 108.64,229.64 109.55,229.70 110.45,229.90 111.36,229.60 112.27,229.83 113.18,229.91 114.09,229.63 115.00,229.54 115.95,229.56 116.91,229.64 117.86,229.65 118.82,229.55 119.77,229.54 120.73,229.23 121.68,229.23 122.64,229.26 123.59,229.48 124.55,229.23 125.50,229.30" fill="none" stroke="#f7931e" stroke-width="1.4" stroke-linejoin="round" stroke-linecap="round" />
<polyline points="29.60,226.83 30.73,226.42 31.87,226.31 33.00,226.28 34.00,226.65 35.00,226.83 36.00,226.99 37.00,226.56 38.00,226.44 39.00,226.18 40.25,226.38 41.50,226.41 42.20,227.00 42.60,235.85 43.10,236.24 43.40,182.22 44.00,179.06 44.80,176.48 46.00,175.36 47.03,175.17 48.07,174.64 49.10,174.28 50.15,174.68 51.20,175.47 52.25,175.53 53.30,176.14 54.37,175.72 55.43,175.71 56.50,175.73 57.53,175.88 58.57,176.79 59.60,177.20 60.51,177.54 61.43,177.59 62.34,177.49 63.26,177.97 64.17,177.91 65.09,177.82 66.00,177.95 67.05,178.72 68.10,179.23 69.15,179.68 70.20,180.12 71.11,180.36 72.03,180.49 72.94,180.90 73.86,180.62 74.77,181.14 75.69,181.33 76.60,181.11 77.51,181.58 78.42,181.53 79.34,181.69 80.25,181.44 81.16,181.55 82.08,181.62 82.99,181.99 83.90,181.84 84.50,181.93 84.80,235.96 86.00,235.49 87.00,235.32 88.00,235.30 89.00,235.62 90.00,235.29 91.00,235.70 92.00,235.43 93.00,235.52 94.00,235.73 95.00,235.64 96.00,235.68 97.00,235.91 98.00,235.81 99.00,235.72 100.00,235.57 101.00,235.61 102.00,235.52 103.00,235.22 104.00,235.21 105.00,234.77 106.00,235.02 107.00,234.78 108.00,234.83 109.00,234.67 110.00,234.39 111.00,234.17 112.00,234.51 113.00,234.01 114.00,234.09 115.00,233.92 116.00,233.80 117.00,233.92 118.00,233.94 119.00,233.48 120.00,233.58 120.92,233.28 121.83,233.30 122.75,233.10 123.67,232.87 124.58,232.75 125.50,232.80" fill="none" stroke="#0f6b52" stroke-width="1.5" stroke-linejoin="round" stroke-linecap="round" />
<polyline points="158.80,200.08 159.93,199.53 161.07,198.53 162.20,197.59 163.20,197.76 164.20,197.70 165.20,197.38 166.23,197.62 167.27,198.01 168.30,198.34 169.45,199.19 170.60,199.84 171.75,199.70 172.90,199.50 173.93,199.76 174.97,200.02 176.00,200.10 176.95,199.97 177.90,199.97 178.85,200.01 179.80,199.95 180.60,200.54 180.90,204.82 181.10,212.91 181.40,209.19 181.80,208.35 182.80,208.64 183.80,208.83 184.80,209.07 185.80,208.95 186.80,209.11 187.76,209.39 188.73,209.73 189.69,210.04 190.65,210.53 191.61,210.78 192.57,211.07 193.54,211.02 194.50,211.31 195.52,211.80 196.53,212.09 197.55,212.14 198.57,212.40 199.58,212.38 200.60,212.76 201.52,212.71 202.44,212.41 203.36,212.16 204.28,211.95 205.20,211.40 206.23,211.84 207.27,212.36 208.30,213.01 209.24,213.23 210.18,213.50 211.12,213.57 212.06,213.70 213.00,213.91 213.40,214.98 213.80,207.02 214.50,205.32 216.00,204.71 217.00,204.09 218.00,203.97 218.92,203.82 219.84,203.64 220.76,203.53 221.68,203.54 222.60,203.65 223.52,203.60 224.44,203.28 225.36,203.19 226.28,203.29 227.20,203.23 228.33,203.12 229.47,203.02 230.60,203.10" fill="none" stroke="#1d5aa6" stroke-width="1.4" stroke-linejoin="round" stroke-linecap="round" />
<polyline points="158.80,200.24 159.93,199.17 161.07,198.45 162.20,197.68 163.20,197.78 164.20,197.56 165.20,197.55 166.23,197.76 167.27,198.03 168.30,198.40 169.45,199.43 170.60,200.08 171.75,199.72 172.90,199.41 173.93,199.73 174.97,199.94 176.00,199.97 176.95,199.90 177.90,200.07 178.85,200.17 179.80,199.89 180.60,200.41 180.90,204.94 181.10,213.37 181.40,209.87 181.80,209.19 182.80,209.57 183.80,209.70 184.80,209.76 185.80,209.78 186.80,210.24 187.76,210.27 188.73,210.77 189.69,210.83 190.65,211.12 191.61,211.63 192.57,211.74 193.54,212.30 194.50,212.42 195.52,212.52 196.53,212.76 197.55,213.06 198.57,213.39 199.58,213.73 200.60,213.63 201.52,213.48 202.44,213.15 203.36,213.21 204.28,212.62 205.20,212.33 206.23,212.84 207.27,213.49 208.30,214.20 209.24,214.36 210.18,214.47 211.12,214.74 212.06,214.88 213.00,214.81 213.40,215.99 213.80,207.17 214.50,205.72 216.00,204.53 217.00,204.39 218.00,203.87 218.92,203.83 219.84,203.77 220.76,203.67 221.68,203.56 222.60,203.63 223.52,203.58 224.44,203.74 225.36,203.33 226.28,203.59 227.20,203.20 228.33,203.23 229.47,203.38 230.60,203.22" fill="none" stroke="#6a2c91" stroke-width="1.4" stroke-linejoin="round" stroke-linecap="round" />
<polyline points="158.80,200.33 159.93,199.34 161.07,198.35 162.20,197.69 163.20,197.55 164.20,197.67 165.20,197.28 166.23,197.71 167.27,198.29 168.30,198.31 169.45,199.21 170.60,200.12 171.75,199.91 172.90,199.42 173.93,199.55 174.97,199.69 176.00,200.17 176.95,199.90 177.90,200.10 178.85,200.16 179.80,199.94 180.60,200.51 180.90,205.18 181.10,213.90 181.40,210.60 181.80,210.30 182.80,210.30 183.80,210.44 184.80,210.49 185.80,210.95 186.80,211.17 187.76,211.37 188.73,211.80 189.69,211.73 190.65,212.12 191.61,212.52 192.57,213.02 193.54,213.33 194.50,213.41 195.52,213.59 196.53,213.89 197.55,214.16 198.57,214.56 199.58,214.50 200.60,214.99 201.52,214.72 202.44,214.51 203.36,214.24 204.28,213.94 205.20,213.58 206.23,214.10 207.27,214.63 208.30,215.32 209.24,215.22 210.18,215.44 211.12,215.84 212.06,215.82 213.00,215.92 213.40,217.19 213.80,207.02 214.50,205.69 216.00,205.05 217.00,204.61 218.00,204.25 218.92,203.92 219.84,203.81 220.76,203.77 221.68,203.89 222.60,203.94 223.52,203.75 224.44,203.59 225.36,203.58 226.28,203.58 227.20,203.52 228.33,203.52 229.47,203.53 230.60,203.35" fill="none" stroke="#f7931e" stroke-width="1.4" stroke-linejoin="round" stroke-linecap="round" />
<polyline points="158.80,200.27 159.93,199.22 161.07,198.67 162.20,197.62 163.20,197.63 164.20,197.45 165.20,197.50 166.23,197.65 167.27,198.03 168.30,198.40 169.45,199.11 170.60,200.15 171.75,199.83 172.90,199.53 173.93,199.69 174.97,200.06 176.00,200.00 176.95,199.89 177.90,200.12 178.85,200.06 179.80,200.20 180.60,200.44 180.90,204.99 181.10,214.53 181.40,211.94 181.80,211.49 182.80,211.31 183.80,211.58 184.80,211.68 185.80,211.88 186.80,212.37 187.76,212.53 188.73,212.98 189.69,213.08 190.65,213.59 191.61,213.74 192.57,213.98 193.54,214.51 194.50,214.89 195.52,214.80 196.53,215.25 197.55,215.50 198.57,215.59 199.58,215.90 200.60,216.06 201.52,215.85 202.44,215.64 203.36,215.54 204.28,215.33 205.20,214.92 206.23,215.38 207.27,216.04 208.30,216.71 209.24,216.70 210.18,216.94 211.12,217.08 212.06,217.51 213.00,217.60 213.40,218.75 213.80,206.84 214.50,205.88 216.00,205.04 217.00,204.68 218.00,204.06 218.92,204.05 219.84,204.22 220.76,204.06 221.68,203.97 222.60,203.94 223.52,204.12 224.44,203.78 225.36,203.81 226.28,203.64 227.20,203.59 228.33,203.73 229.47,203.75 230.60,203.52" fill="none" stroke="#d0103a" stroke-width="1.4" stroke-linejoin="round" stroke-linecap="round" />
<polyline points="158.80,200.15 159.93,199.25 161.07,198.62 162.20,197.58 163.20,197.40 164.20,197.66 165.20,197.37 166.23,197.89 167.27,198.10 168.30,198.65 169.45,199.23 170.60,199.87 171.75,199.61 172.90,199.62 173.93,199.79 174.97,200.03 176.00,199.84 176.95,200.05 177.90,199.95 178.85,200.00 179.80,199.86 180.60,200.51 180.90,205.01 181.10,219.37 181.40,213.84 181.80,213.54 182.80,213.86 183.80,214.12 184.80,214.01 185.80,214.17 186.80,214.69 187.76,215.05 188.73,215.19 189.69,215.36 190.65,216.05 191.61,216.17 192.57,216.72 193.54,216.95 194.50,217.37 195.52,217.37 196.53,217.90 197.55,217.94 198.57,218.29 199.58,218.74 200.60,219.00 201.52,218.54 202.44,218.34 203.36,218.20 204.28,218.04 205.20,217.78 206.23,218.23 207.27,218.84 208.30,219.58 209.24,219.86 210.18,219.73 211.12,220.15 212.06,220.44 213.00,220.37 213.40,222.14 213.80,206.85 214.50,206.29 216.00,205.37 217.00,205.00 218.00,204.47 218.92,204.48 219.84,204.50 220.76,204.40 221.68,204.45 222.60,204.33 223.52,204.25 224.44,204.00 225.36,204.16 226.28,204.03 227.20,203.84 228.33,204.02 229.47,204.00 230.60,203.85" fill="none" stroke="#0f6b52" stroke-width="1.4" stroke-linejoin="round" stroke-linecap="round" />
<polyline points="158.80,200.18 159.93,199.24 161.07,198.52 162.20,197.54 163.20,197.45 164.20,197.47 165.20,197.24 166.23,197.74 167.27,198.14 168.30,198.32 169.45,199.30 170.60,199.83 171.75,199.89 172.90,199.71 173.93,199.74 174.97,199.69 176.00,200.00 176.95,199.95 177.90,200.18 178.85,199.85 179.80,200.14 180.60,200.80 180.90,205.09 181.10,219.33 181.40,215.48 181.80,215.35 182.80,215.37 183.80,215.76 184.80,215.96 185.80,215.87 186.80,216.33 187.76,216.75 188.73,216.76 189.69,217.23 190.65,217.75 191.61,217.87 192.57,218.52 193.54,218.63 194.50,219.20 195.52,219.22 196.53,219.66 197.55,220.11 198.57,220.12 199.58,220.43 200.60,220.82 201.52,220.55 202.44,220.24 203.36,220.11 204.28,219.91 205.20,220.02 206.23,220.49 207.27,221.15 208.30,221.44 209.24,221.91 210.18,221.87 211.12,222.27 212.06,222.54 213.00,222.65 213.40,224.39 213.80,207.02 214.50,206.52 216.00,205.74 217.00,205.03 218.00,204.99 218.92,204.80 219.84,204.67 220.76,204.79 221.68,204.54 222.60,204.79 223.52,204.54 224.44,204.37 225.36,204.46 226.28,204.25 227.20,204.06 228.33,204.25 229.47,203.94 230.60,204.09" fill="none" stroke="#35b54a" stroke-width="1.4" stroke-linejoin="round" stroke-linecap="round" />
<polyline points="265.80,198.13 266.82,197.45 267.85,197.16 268.88,196.84 269.90,196.23 271.07,196.10 272.23,195.79 273.40,195.50 274.53,195.98 275.67,196.49 276.80,197.15 277.97,197.77 279.13,198.51 280.30,199.36 281.47,198.92 282.63,198.82 283.80,198.86 284.84,198.55 285.88,198.48 286.92,198.56 287.96,198.40 289.00,198.44 289.60,198.39 289.90,196.03 290.30,206.04 291.00,206.88 291.50,207.15 292.43,207.22 293.36,207.21 294.29,207.66 295.21,207.51 296.14,207.60 297.07,207.71 298.00,208.06 298.92,208.25 299.84,208.31 300.77,208.26 301.69,208.31 302.61,208.30 303.53,208.66 304.46,208.72 305.38,208.74 306.30,208.96 307.26,208.96 308.21,209.23 309.17,209.23 310.12,209.11 311.08,209.45 312.03,209.18 312.99,209.46 313.94,209.48 314.90,209.50 315.92,209.50 316.94,209.87 317.96,209.64 318.98,209.94 320.00,210.18 321.02,209.96 322.03,210.08 323.05,210.34 324.07,210.40 325.08,210.56 326.10,210.73 326.80,212.87 327.30,202.92 327.80,201.32 328.90,201.09 330.00,201.31 331.10,201.14 332.20,200.99 333.19,200.70 334.17,201.04 335.16,201.00 336.14,200.89 337.13,201.00 338.11,200.88 339.10,200.79 340.09,200.64 341.07,200.59 342.06,200.42 343.04,200.43 344.03,200.50 345.01,200.38 346.00,200.20" fill="none" stroke="#1d5aa6" stroke-width="1.4" stroke-linejoin="round" stroke-linecap="round" />
<polyline points="265.80,198.14 266.82,197.63 267.85,197.01 268.88,196.67 269.90,196.17 271.07,196.15 272.23,195.88 273.40,195.61 274.53,196.22 275.67,196.82 276.80,196.99 277.97,197.95 279.13,198.31 280.30,199.10 281.47,198.96 282.63,199.03 283.80,198.98 284.84,198.84 285.88,198.61 286.92,198.77 287.96,198.49 289.00,198.40 289.60,198.66 289.90,199.05 290.30,207.08 291.00,208.07 291.50,208.29 292.43,208.22 293.36,208.49 294.29,208.56 295.21,208.76 296.14,208.72 297.07,208.96 298.00,209.03 298.92,209.02 299.84,209.08 300.77,209.35 301.69,209.23 302.61,209.66 303.53,209.46 304.46,209.51 305.38,209.64 306.30,210.07 307.26,209.92 308.21,209.91 309.17,209.94 310.12,210.03 311.08,210.37 312.03,210.42 312.99,210.52 313.94,210.62 314.90,210.43 315.92,210.72 316.94,210.71 317.96,210.97 318.98,211.05 320.00,211.16 321.02,210.93 322.03,211.35 323.05,211.47 324.07,211.58 325.08,211.34 326.10,211.48 326.80,213.84 327.30,202.81 327.80,201.64 328.90,201.50 330.00,201.30 331.10,201.26 332.20,201.05 333.19,200.91 334.17,200.84 335.16,200.84 336.14,201.10 337.13,200.88 338.11,200.93 339.10,200.97 340.09,200.71 341.07,200.70 342.06,200.61 343.04,200.69 344.03,200.45 345.01,200.33 346.00,200.30" fill="none" stroke="#6a2c91" stroke-width="1.4" stroke-linejoin="round" stroke-linecap="round" />
<polyline points="265.80,198.19 266.82,197.55 267.85,197.24 268.88,196.70 269.90,196.01 271.07,196.00 272.23,195.84 273.40,195.81 274.53,196.11 275.67,196.72 276.80,197.12 277.97,197.69 279.13,198.64 280.30,199.04 281.47,199.19 282.63,198.80 283.80,198.60 284.84,198.62 285.88,198.78 286.92,198.81 287.96,198.36 289.00,198.50 289.60,198.50 289.90,189.42 290.30,207.67 291.00,208.80 291.50,208.84 292.43,209.16 293.36,209.06 294.29,209.46 295.21,209.33 296.14,209.43 297.07,209.75 298.00,209.80 298.92,209.74 299.84,210.05 300.77,209.93 301.69,210.32 302.61,210.38 303.53,210.51 304.46,210.55 305.38,210.54 306.30,210.66 307.26,210.74 308.21,211.01 309.17,210.77 310.12,211.17 311.08,210.90 312.03,211.05 312.99,211.15 313.94,211.48 314.90,211.40 315.92,211.43 316.94,211.71 317.96,211.53 318.98,211.70 320.00,211.81 321.02,212.00 322.03,212.10 323.05,212.16 324.07,212.14 325.08,212.23 326.10,212.26 326.80,214.94 327.30,203.06 327.80,201.68 328.90,201.32 330.00,201.31 331.10,201.31 332.20,201.11 333.19,200.93 334.17,201.06 335.16,201.23 336.14,200.98 337.13,200.96 338.11,201.00 339.10,201.16 340.09,201.12 341.07,200.74 342.06,200.64 343.04,200.58 344.03,200.51 345.01,200.49 346.00,200.38" fill="none" stroke="#d0103a" stroke-width="1.4" stroke-linejoin="round" stroke-linecap="round" />
<polyline points="265.80,197.86 266.82,197.48 267.85,196.98 268.88,196.84 269.90,196.29 271.07,195.87 272.23,196.05 273.40,195.54 274.53,196.12 275.67,196.83 276.80,197.22 277.97,197.89 279.13,198.47 280.30,199.08 281.47,199.12 282.63,198.78 283.80,198.68 284.84,198.70 285.88,198.49 286.92,198.58 287.96,198.68 289.00,198.58 289.60,198.50 289.90,199.05 290.30,208.79 291.00,211.86 291.50,209.94 292.43,209.99 293.36,210.25 294.29,210.45 295.21,210.39 296.14,210.57 297.07,210.77 298.00,210.77 298.92,210.79 299.84,211.09 300.77,211.25 301.69,211.31 302.61,211.38 303.53,211.54 304.46,211.57 305.38,211.66 306.30,211.68 307.26,211.70 308.21,211.91 309.17,211.77 310.12,211.98 311.08,212.20 312.03,212.25 312.99,212.30 313.94,212.22 314.90,212.37 315.92,212.46 316.94,212.61 317.96,212.60 318.98,212.79 320.00,212.97 321.02,212.77 322.03,213.06 323.05,213.21 324.07,213.16 325.08,213.30 326.10,213.59 326.80,215.62 327.30,203.02 327.80,201.54 328.90,201.67 330.00,201.61 331.10,201.31 332.20,201.02 333.19,201.21 334.17,201.20 335.16,201.27 336.14,201.18 337.13,201.24 338.11,201.31 339.10,201.19 340.09,201.04 341.07,201.16 342.06,200.76 343.04,200.85 344.03,200.64 345.01,200.69 346.00,200.48" fill="none" stroke="#f7931e" stroke-width="1.4" stroke-linejoin="round" stroke-linecap="round" />
<polyline points="265.80,197.85 266.82,197.74 267.85,197.04 268.88,196.47 269.90,196.11 271.07,195.99 272.23,195.67 273.40,195.67 274.53,196.13 275.67,196.71 276.80,197.04 277.97,197.71 279.13,198.39 280.30,199.30 281.47,199.24 282.63,198.94 283.80,198.69 284.84,198.86 285.88,198.64 286.92,198.50 287.96,198.41 289.00,198.61 289.60,198.62 289.90,199.05 290.30,210.39 291.00,212.02 291.50,211.39 292.43,211.81 293.36,211.70 294.29,211.94 295.21,212.14 296.14,212.27 297.07,212.26 298.00,212.32 298.92,212.52 299.84,212.45 300.77,212.83 301.69,212.74 302.61,213.04 303.53,212.91 304.46,213.05 305.38,213.10 306.30,213.27 307.26,213.25 308.21,213.26 309.17,213.62 310.12,213.52 311.08,213.59 312.03,213.69 312.99,213.84 313.94,213.89 314.90,214.05 315.92,214.14 316.94,214.10 317.96,214.41 318.98,214.46 320.00,214.22 321.02,214.63 322.03,214.76 323.05,214.81 324.07,214.66 325.08,215.03 326.10,215.05 326.80,222.01 327.30,202.80 327.80,202.02 328.90,201.78 330.00,201.49 331.10,201.31 332.20,201.20 333.19,201.23 334.17,201.45 335.16,201.28 336.14,201.20 337.13,201.50 338.11,201.46 339.10,201.21 340.09,201.40 341.07,201.18 342.06,201.15 343.04,201.01 344.03,201.00 345.01,200.86 346.00,200.64" fill="none" stroke="#0f6b52" stroke-width="1.4" stroke-linejoin="round" stroke-linecap="round" />
<polyline points="265.80,198.14 266.82,197.43 267.85,197.18 268.88,196.66 269.90,196.30 271.07,196.01 272.23,196.02 273.40,195.72 274.53,196.07 275.67,196.53 276.80,196.96 277.97,197.80 279.13,198.32 280.30,199.19 281.47,198.92 282.63,198.93 283.80,198.80 284.84,198.76 285.88,198.83 286.92,198.42 287.96,198.70 289.00,198.49 289.60,198.53 289.90,199.07 290.30,211.94 291.00,212.75 291.50,212.87 292.43,213.21 293.36,212.99 294.29,213.34 295.21,213.47 296.14,213.35 297.07,213.72 298.00,213.87 298.92,214.07 299.84,213.93 300.77,214.29 301.69,214.20 302.61,214.29 303.53,214.56 304.46,214.31 305.38,214.69 306.30,214.75 307.26,214.71 308.21,215.00 309.17,214.88 310.12,215.00 311.08,215.10 312.03,215.27 312.99,215.13 313.94,215.30 314.90,215.37 315.92,215.50 316.94,215.69 317.96,215.56 318.98,215.85 320.00,215.76 321.02,215.90 322.03,215.91 323.05,216.10 324.07,216.39 325.08,216.36 326.10,216.52 326.80,218.73 327.30,202.93 327.80,201.90 328.90,201.89 330.00,201.78 331.10,201.72 332.20,201.30 333.19,201.57 334.17,201.63 335.16,201.50 336.14,201.30 337.13,201.40 338.11,201.28 339.10,201.36 340.09,201.55 341.07,201.32 342.06,201.24 343.04,201.20 344.03,201.14 345.01,200.92 346.00,200.78" fill="none" stroke="#35b54a" stroke-width="1.4" stroke-linejoin="round" stroke-linecap="round" />
<text x="142.00" y="277.40" font-size="6.8" text-anchor="end" fill="#222" textLength="23.1" lengthAdjust="spacingAndGlyphs" >Flag-IP:</text>
<text x="185.60" y="277.40" font-size="6.9" text-anchor="middle" fill="#222" textLength="29.6" lengthAdjust="spacingAndGlyphs" >HEK293T</text>
<line x1="149.70" y1="279.80" x2="211.60" y2="279.80" stroke="#111" stroke-width="1.2" />
<text x="141.30" y="288.50" font-size="7.0" text-anchor="end" fill="#1a1a1a" textLength="34.3" lengthAdjust="spacingAndGlyphs" >Flag-CDK6</text>
<line x1="150.10" y1="286.20" x2="153.90" y2="286.20" stroke="#333" stroke-width="0.8" />
<line x1="152.00" y1="284.30" x2="152.00" y2="288.10" stroke="#333" stroke-width="0.8" />
<line x1="169.70" y1="286.20" x2="173.50" y2="286.20" stroke="#333" stroke-width="0.8" />
<line x1="171.60" y1="284.30" x2="171.60" y2="288.10" stroke="#333" stroke-width="0.8" />
<line x1="189.50" y1="286.20" x2="193.30" y2="286.20" stroke="#333" stroke-width="0.8" />
<line x1="191.40" y1="284.30" x2="191.40" y2="288.10" stroke="#333" stroke-width="0.8" />
<line x1="209.20" y1="286.20" x2="213.00" y2="286.20" stroke="#333" stroke-width="0.8" />
<line x1="211.10" y1="284.30" x2="211.10" y2="288.10" stroke="#333" stroke-width="0.8" />
<text x="141.80" y="296.60" font-size="7.0" text-anchor="end" fill="#1a1a1a" textLength="27.0" lengthAdjust="spacingAndGlyphs" >Myc-p18</text>
<line x1="150.10" y1="294.30" x2="153.90" y2="294.30" stroke="#333" stroke-width="0.8" />
<line x1="152.00" y1="292.40" x2="152.00" y2="296.20" stroke="#333" stroke-width="0.8" />
<line x1="169.80" y1="294.30" x2="173.40" y2="294.30" stroke="#444" stroke-width="0.8" />
<line x1="189.60" y1="294.30" x2="193.20" y2="294.30" stroke="#444" stroke-width="0.8" />
<line x1="209.20" y1="294.30" x2="213.00" y2="294.30" stroke="#333" stroke-width="0.8" />
<line x1="211.10" y1="292.40" x2="211.10" y2="296.20" stroke="#333" stroke-width="0.8" />
<text x="141.90" y="304.00" font-size="4.0" text-anchor="end" fill="#333" textLength="7.0" lengthAdjust="spacingAndGlyphs" >Mut</text>
<text x="134.20" y="307.00" font-size="7.0" text-anchor="end" fill="#1a1a1a" textLength="26.4" lengthAdjust="spacingAndGlyphs" >Myc-p18</text>
<line x1="150.20" y1="304.70" x2="153.80" y2="304.70" stroke="#444" stroke-width="0.8" />
<line x1="169.70" y1="304.70" x2="173.50" y2="304.70" stroke="#333" stroke-width="0.8" />
<line x1="171.60" y1="302.80" x2="171.60" y2="306.60" stroke="#333" stroke-width="0.8" />
<line x1="189.60" y1="304.70" x2="193.20" y2="304.70" stroke="#444" stroke-width="0.8" />
<line x1="209.30" y1="304.70" x2="212.90" y2="304.70" stroke="#444" stroke-width="0.8" />
<text x="141.90" y="311.20" font-size="4.0" text-anchor="end" fill="#333" textLength="7.0" lengthAdjust="spacingAndGlyphs" >Del</text>
<text x="134.60" y="314.20" font-size="7.0" text-anchor="end" fill="#1a1a1a" textLength="26.5" lengthAdjust="spacingAndGlyphs" >Myc-p18</text>
<line x1="150.20" y1="311.90" x2="153.80" y2="311.90" stroke="#444" stroke-width="0.8" />
<line x1="169.80" y1="311.90" x2="173.40" y2="311.90" stroke="#444" stroke-width="0.8" />
<line x1="189.50" y1="311.90" x2="193.30" y2="311.90" stroke="#333" stroke-width="0.8" />
<line x1="191.40" y1="310.00" x2="191.40" y2="313.80" stroke="#333" stroke-width="0.8" />
<line x1="209.30" y1="311.90" x2="212.90" y2="311.90" stroke="#444" stroke-width="0.8" />
<text x="141.80" y="323.00" font-size="7.0" text-anchor="end" fill="#1a1a1a" textLength="16.7" lengthAdjust="spacingAndGlyphs" >005A</text>
<line x1="150.20" y1="320.70" x2="153.80" y2="320.70" stroke="#444" stroke-width="0.8" />
<line x1="169.80" y1="320.70" x2="173.40" y2="320.70" stroke="#444" stroke-width="0.8" />
<line x1="189.60" y1="320.70" x2="193.20" y2="320.70" stroke="#444" stroke-width="0.8" />
<line x1="209.20" y1="320.70" x2="213.00" y2="320.70" stroke="#333" stroke-width="0.8" />
<line x1="211.10" y1="318.80" x2="211.10" y2="322.60" stroke="#333" stroke-width="0.8" />
<defs><linearGradient id="gb1" x1="0" x2="1"><stop offset="0" stop-color="#cfcfcf"/><stop offset="1" stop-color="#d9d9d9"/></linearGradient><linearGradient id="gb2" x1="0" x2="0" y1="0" y2="1"><stop offset="0" stop-color="#dedede"/><stop offset="0.5" stop-color="#ebebeb"/><stop offset="1" stop-color="#dcdcdc"/></linearGradient><linearGradient id="gb3" x1="0" x2="1"><stop offset="0" stop-color="#a6a6a6"/><stop offset="1" stop-color="#b2b2b2"/></linearGradient><filter id="bl" x="-20%" y="-50%" width="140%" height="200%"><feGaussianBlur stdDeviation="0.75"/></filter><filter id="bl2" x="-20%" y="-50%" width="140%" height="200%"><feGaussianBlur stdDeviation="0.35"/></filter></defs>
<rect x="143.00" y="324.40" width="79.40" height="16.40" fill="url(#gb1)" stroke="none" stroke-width="1" />
<rect x="143.00" y="342.80" width="79.40" height="15.90" fill="url(#gb2)" stroke="none" stroke-width="1" />
<rect x="143.00" y="361.10" width="79.40" height="16.50" fill="url(#gb3)" stroke="none" stroke-width="1" />
<rect x="143.00" y="379.60" width="79.40" height="16.60" fill="#e3e3e3" stroke="none" stroke-width="1" />
<path d="M149.2,330.2 C151,329.4 156,331.2 163.8,331.8 L163.8,334.6 C157,334.6 151.5,333.8 149.5,332.6 Z" fill="#151515" filter="url(#bl)"/>
<path d="M167.40,333.00 C167.40,331.50 169.40,331.50 171.40,331.50 L179.10,331.50 C182.10,331.50 182.10,334.50 179.10,334.50 L171.40,334.50 C169.40,334.50 167.40,334.50 167.40,333.00 Z" fill="#1a1a1a" filter="url(#bl)"/>
<path d="M185.30,332.90 C185.30,331.10 187.30,331.10 189.30,331.10 L197.60,331.10 C200.60,331.10 200.60,334.70 197.60,334.70 L189.30,334.70 C187.30,334.70 185.30,334.70 185.30,332.90 Z" fill="#121212" filter="url(#bl)"/>
<path d="M203.20,332.80 C203.20,331.20 205.20,331.20 207.20,331.20 L214.90,331.20 C217.90,331.20 217.90,334.40 214.90,334.40 L207.20,334.40 C205.20,334.40 203.20,334.40 203.20,332.80 Z" fill="#151515" filter="url(#bl)"/>
<path d="M146.00,350.50 C146.00,348.30 148.00,348.30 150.00,348.30 L160.40,348.30 C163.40,348.30 163.40,352.70 160.40,352.70 L150.00,352.70 C148.00,352.70 146.00,352.70 146.00,350.50 Z" fill="#0c0c0c" filter="url(#bl)"/>
<path d="M166.80,351.10 C166.80,349.35 168.80,349.35 170.80,349.35 L179.10,349.35 C182.10,349.35 182.10,352.85 179.10,352.85 L170.80,352.85 C168.80,352.85 166.80,352.85 166.80,351.10 Z" fill="#181818" filter="url(#bl)"/>
<path d="M185.70,351.00 C185.70,348.90 187.70,348.90 189.70,348.90 L198.20,348.90 C201.20,348.90 201.20,353.10 198.20,353.10 L189.70,353.10 C187.70,353.10 185.70,353.10 185.70,351.00 Z" fill="#101010" filter="url(#bl)"/>
<path d="M204.00,351.30 C204.00,349.40 206.00,349.40 208.00,349.40 L217.40,349.40 C220.40,349.40 220.40,353.20 217.40,353.20 L208.00,353.20 C206.00,353.20 204.00,353.20 204.00,351.30 Z" fill="#141414" filter="url(#bl)"/>
<path d="M147.00,369.40 C147.00,367.00 149.00,367.00 151.00,367.00 L162.80,367.00 C165.80,367.00 165.80,371.80 162.80,371.80 L151.00,371.80 C149.00,371.80 147.00,371.80 147.00,369.40 Z" fill="#0e0e0e" filter="url(#bl)"/>
<path d="M166.80,370.00 C166.80,367.60 168.80,367.60 170.80,367.60 L181.10,367.60 C184.10,367.60 184.10,372.40 181.10,372.40 L170.80,372.40 C168.80,372.40 166.80,372.40 166.80,370.00 Z" fill="#0e0e0e" filter="url(#bl)"/>
<path d="M184.70,369.80 C184.70,367.50 186.70,367.50 188.70,367.50 L198.60,367.50 C201.60,367.50 201.60,372.10 198.60,372.10 L188.70,372.10 C186.70,372.10 184.70,372.10 184.70,369.80 Z" fill="#101010" filter="url(#bl)"/>
<path d="M202.60,368.80 C202.60,366.60 204.60,366.60 206.60,366.60 L217.40,366.60 C220.40,366.60 220.40,371.00 217.40,371.00 L206.60,371.00 C204.60,371.00 202.60,371.00 202.60,368.80 Z" fill="#141414" filter="url(#bl)"/>
<ellipse cx="157.0" cy="388.7" rx="10.2" ry="3.7" fill="#050505" filter="url(#bl2)"/>
<text x="140.30" y="335.70" font-size="6.8" text-anchor="end" fill="#1a1a1a" textLength="12.2" lengthAdjust="spacingAndGlyphs" >Flag</text>
<text x="141.60" y="352.10" font-size="6.8" text-anchor="end" fill="#1a1a1a" textLength="12.6" lengthAdjust="spacingAndGlyphs" >Myc</text>
<text x="140.30" y="370.40" font-size="6.8" text-anchor="end" fill="#1a1a1a" textLength="12.2" lengthAdjust="spacingAndGlyphs" >Flag</text>
<text x="141.60" y="387.80" font-size="6.8" text-anchor="end" fill="#1a1a1a" textLength="12.6" lengthAdjust="spacingAndGlyphs" >Myc</text>
<line x1="125.40" y1="331.90" x2="125.40" y2="352.80" stroke="#111" stroke-width="1.0" />
<line x1="125.40" y1="368.90" x2="125.40" y2="388.80" stroke="#111" stroke-width="1.0" />
<text x="121.20" y="340.90" font-size="6.8" text-anchor="middle" fill="#1a1a1a" textLength="14.9" lengthAdjust="spacingAndGlyphs" transform="rotate(-90 121.20 340.90)" >Input</text>
<text x="121.10" y="378.10" font-size="6.8" text-anchor="middle" fill="#1a1a1a" textLength="5.4" lengthAdjust="spacingAndGlyphs" transform="rotate(-90 121.10 378.10)" >IP</text>
<line x1="312.30" y1="280.60" x2="312.30" y2="360.00" stroke="#111" stroke-width="1.1" />
<line x1="311.80" y1="359.60" x2="394.20" y2="359.60" stroke="#111" stroke-width="1.1" />
<line x1="309.80" y1="359.50" x2="312.30" y2="359.50" stroke="#111" stroke-width="1.0" />
<text x="307.30" y="362.10" font-size="7.3" text-anchor="end" fill="#1a1a1a" >0</text>
<line x1="309.80" y1="333.40" x2="312.30" y2="333.40" stroke="#111" stroke-width="1.0" />
<text x="307.30" y="336.00" font-size="7.3" text-anchor="end" fill="#1a1a1a" >10</text>
<line x1="309.80" y1="307.30" x2="312.30" y2="307.30" stroke="#111" stroke-width="1.0" />
<text x="307.30" y="309.90" font-size="7.3" text-anchor="end" fill="#1a1a1a" >20</text>
<line x1="309.80" y1="281.20" x2="312.30" y2="281.20" stroke="#111" stroke-width="1.0" />
<text x="307.30" y="283.80" font-size="7.3" text-anchor="end" fill="#1a1a1a" >30</text>
<line x1="325.85" y1="300.77" x2="325.85" y2="293.73" stroke="#111" stroke-width="0.9" />
<line x1="322.85" y1="293.73" x2="328.85" y2="293.73" stroke="#111" stroke-width="0.9" />
<rect x="320.10" y="300.77" width="11.50" height="58.73" fill="#c8102e" stroke="#111" stroke-width="0.7" />
<line x1="325.85" y1="359.60" x2="325.85" y2="362.20" stroke="#111" stroke-width="1.0" />
<line x1="344.05" y1="353.76" x2="344.05" y2="353.24" stroke="#111" stroke-width="0.9" />
<line x1="341.05" y1="353.24" x2="347.05" y2="353.24" stroke="#111" stroke-width="0.9" />
<rect x="338.50" y="353.76" width="11.10" height="5.74" fill="#1c4f8a" stroke="#111" stroke-width="0.7" />
<line x1="344.05" y1="359.60" x2="344.05" y2="362.20" stroke="#111" stroke-width="1.0" />
<line x1="362.70" y1="354.67" x2="362.70" y2="354.28" stroke="#111" stroke-width="0.9" />
<line x1="359.70" y1="354.28" x2="365.70" y2="354.28" stroke="#111" stroke-width="0.9" />
<rect x="357.00" y="354.67" width="11.40" height="4.83" fill="#3cba4a" stroke="#111" stroke-width="0.7" />
<line x1="362.70" y1="359.60" x2="362.70" y2="362.20" stroke="#111" stroke-width="1.0" />
<line x1="381.15" y1="297.90" x2="381.15" y2="296.60" stroke="#111" stroke-width="0.9" />
<line x1="378.15" y1="296.60" x2="384.15" y2="296.60" stroke="#111" stroke-width="0.9" />
<rect x="375.50" y="297.90" width="11.30" height="61.60" fill="#5b2b80" stroke="#111" stroke-width="0.7" />
<line x1="381.15" y1="359.60" x2="381.15" y2="362.20" stroke="#111" stroke-width="1.0" />
<polyline points="325.5,284.4 325.5,279.4 382.2,279.4 382.2,284.4" fill="none" stroke="#111" stroke-width="0.9"/>
<polyline points="364.6,295.2 364.6,291.3 382.2,291.3 382.2,295.2" fill="none" stroke="#111" stroke-width="0.9"/>
<text x="354.20" y="276.00" font-size="7.0" text-anchor="middle" fill="#333" textLength="7.7" lengthAdjust="spacingAndGlyphs" >ns</text>
<text x="374.50" y="290.20" font-size="6.4" text-anchor="middle" fill="#222" textLength="8" lengthAdjust="spacingAndGlyphs" >***</text>
<text x="282.70" y="322.60" font-size="8.6" text-anchor="middle" fill="#222" textLength="75" lengthAdjust="spacingAndGlyphs" transform="rotate(-90 282.70 322.60)" stroke="#222" stroke-width="0.2">CDK6 kinase activity (SA)</text>
<text x="292.60" y="321.20" font-size="8.9" text-anchor="middle" fill="#222" textLength="45.5" lengthAdjust="spacingAndGlyphs" transform="rotate(-90 292.60 321.20)" stroke="#222" stroke-width="0.2">(nmol/min/mg)</text>
<text x="320.90" y="374.30" font-size="7.0" text-anchor="end" fill="#1a1a1a" textLength="47.6" lengthAdjust="spacingAndGlyphs" >CDK6/Cyclin D</text>
<text x="316.90" y="382.40" font-size="7.0" text-anchor="end" fill="#1a1a1a" textLength="12.1" lengthAdjust="spacingAndGlyphs" >p18</text>
<text x="318.10" y="390.60" font-size="7.0" text-anchor="end" fill="#1a1a1a" textLength="33.3" lengthAdjust="spacingAndGlyphs" >Compound</text>
<line x1="324.80" y1="372.30" x2="328.60" y2="372.30" stroke="#222" stroke-width="0.8" />
<line x1="326.70" y1="370.40" x2="326.70" y2="374.20" stroke="#222" stroke-width="0.8" />
<line x1="342.50" y1="372.30" x2="346.30" y2="372.30" stroke="#222" stroke-width="0.8" />
<line x1="344.40" y1="370.40" x2="344.40" y2="374.20" stroke="#222" stroke-width="0.8" />
<line x1="360.85" y1="372.30" x2="364.65" y2="372.30" stroke="#222" stroke-width="0.8" />
<line x1="362.75" y1="370.40" x2="362.75" y2="374.20" stroke="#222" stroke-width="0.8" />
<line x1="379.35" y1="372.30" x2="383.15" y2="372.30" stroke="#222" stroke-width="0.8" />
<line x1="381.25" y1="370.40" x2="381.25" y2="374.20" stroke="#222" stroke-width="0.8" />
<line x1="324.90" y1="380.40" x2="328.50" y2="380.40" stroke="#333" stroke-width="0.8" />
<line x1="342.50" y1="380.40" x2="346.30" y2="380.40" stroke="#222" stroke-width="0.8" />
<line x1="344.40" y1="378.50" x2="344.40" y2="382.30" stroke="#222" stroke-width="0.8" />
<line x1="360.85" y1="380.40" x2="364.65" y2="380.40" stroke="#222" stroke-width="0.8" />
<line x1="362.75" y1="378.50" x2="362.75" y2="382.30" stroke="#222" stroke-width="0.8" />
<line x1="379.35" y1="380.40" x2="383.15" y2="380.40" stroke="#222" stroke-width="0.8" />
<line x1="381.25" y1="378.50" x2="381.25" y2="382.30" stroke="#222" stroke-width="0.8" />
<line x1="324.90" y1="388.50" x2="328.50" y2="388.50" stroke="#333" stroke-width="0.8" />
<line x1="342.60" y1="388.50" x2="346.20" y2="388.50" stroke="#333" stroke-width="0.8" />
<text x="362.70" y="390.90" font-size="7.0" text-anchor="middle" fill="#1a1a1a" textLength="20.9" lengthAdjust="spacingAndGlyphs" >DMSO</text>
<text x="385.00" y="390.90" font-size="7.0" text-anchor="middle" fill="#1a1a1a" textLength="17.5" lengthAdjust="spacingAndGlyphs" >005A</text>
<text x="297.40" y="26.25" font-size="6.8" text-anchor="middle" fill="#e3208c" textLength="8.0" lengthAdjust="spacingAndGlyphs" >Na</text>
<line x1="295.30" y1="27.40" x2="295.30" y2="33.20" stroke="#1a1a1a" stroke-width="1.3" stroke-linecap="round"/>
<text x="294.80" y="39.79" font-size="7.2" text-anchor="middle" fill="#d9243c" >O</text>
<text x="271.80" y="39.19" font-size="7.2" text-anchor="middle" fill="#d9243c" >O</text>
<line x1="283.20" y1="44.00" x2="292.20" y2="39.20" stroke="#1a1a1a" stroke-width="1.3" stroke-linecap="round"/>
<line x1="283.20" y1="44.00" x2="274.60" y2="38.80" stroke="#1a1a1a" stroke-width="1.3" stroke-linecap="round"/>
<line x1="282.20" y1="45.70" x2="273.60" y2="40.50" stroke="#1a1a1a" stroke-width="1.3" stroke-linecap="round"/>
<line x1="283.20" y1="44.00" x2="283.20" y2="56.70" stroke="#1a1a1a" stroke-width="1.3" stroke-linecap="round"/>
<line x1="283.20" y1="56.70" x2="294.40" y2="63.20" stroke="#1a1a1a" stroke-width="1.3" stroke-linecap="round"/>
<line x1="294.40" y1="63.20" x2="294.40" y2="76.20" stroke="#1a1a1a" stroke-width="1.3" stroke-linecap="round"/>
<line x1="294.40" y1="76.20" x2="283.20" y2="82.60" stroke="#1a1a1a" stroke-width="1.3" stroke-linecap="round"/>
<line x1="283.20" y1="82.60" x2="272.00" y2="76.20" stroke="#1a1a1a" stroke-width="1.3" stroke-linecap="round"/>
<line x1="272.00" y1="76.20" x2="272.00" y2="63.20" stroke="#1a1a1a" stroke-width="1.3" stroke-linecap="round"/>
<line x1="272.00" y1="63.20" x2="283.20" y2="56.70" stroke="#1a1a1a" stroke-width="1.3" stroke-linecap="round"/>
<line x1="274.46" y1="65.82" x2="274.46" y2="73.53" stroke="#1a1a1a" stroke-width="1.3" stroke-linecap="round"/>
<line x1="284.25" y1="60.15" x2="290.89" y2="64.00" stroke="#1a1a1a" stroke-width="1.3" stroke-linecap="round"/>
<line x1="290.89" y1="75.35" x2="284.25" y2="79.14" stroke="#1a1a1a" stroke-width="1.3" stroke-linecap="round"/>
<line x1="283.20" y1="82.60" x2="283.20" y2="92.40" stroke="#1a1a1a" stroke-width="1.3" stroke-linecap="round"/>
<text x="282.90" y="98.39" font-size="7.2" text-anchor="middle" fill="#d9243c" >S</text>
<text x="268.20" y="98.29" font-size="7.2" text-anchor="middle" fill="#d9243c" >O</text>
<text x="296.00" y="98.29" font-size="7.2" text-anchor="middle" fill="#d9243c" >O</text>
<line x1="271.40" y1="94.60" x2="279.40" y2="94.60" stroke="#1a1a1a" stroke-width="1.3" stroke-linecap="round"/>
<line x1="271.40" y1="96.90" x2="279.40" y2="96.90" stroke="#1a1a1a" stroke-width="1.3" stroke-linecap="round"/>
<line x1="286.20" y1="94.60" x2="292.80" y2="94.60" stroke="#1a1a1a" stroke-width="1.3" stroke-linecap="round"/>
<line x1="286.20" y1="96.90" x2="292.80" y2="96.90" stroke="#1a1a1a" stroke-width="1.3" stroke-linecap="round"/>
<line x1="283.20" y1="99.30" x2="283.20" y2="105.20" stroke="#1a1a1a" stroke-width="1.3" stroke-linecap="round"/>
<text x="284.20" y="111.22" font-size="7.0" text-anchor="middle" fill="#2b69ad" textLength="10.0" lengthAdjust="spacingAndGlyphs" >NH</text>
<line x1="278.60" y1="109.60" x2="270.60" y2="114.30" stroke="#1a1a1a" stroke-width="1.3" stroke-linecap="round"/>
<line x1="259.00" y1="108.10" x2="270.60" y2="114.40" stroke="#1a1a1a" stroke-width="1.3" stroke-linecap="round"/>
<line x1="270.60" y1="114.40" x2="270.60" y2="127.30" stroke="#1a1a1a" stroke-width="1.3" stroke-linecap="round"/>
<line x1="270.60" y1="127.30" x2="259.00" y2="133.70" stroke="#1a1a1a" stroke-width="1.3" stroke-linecap="round"/>
<line x1="259.00" y1="133.70" x2="247.50" y2="127.30" stroke="#1a1a1a" stroke-width="1.3" stroke-linecap="round"/>
<line x1="247.50" y1="127.30" x2="247.50" y2="114.40" stroke="#1a1a1a" stroke-width="1.3" stroke-linecap="round"/>
<line x1="247.50" y1="114.40" x2="259.00" y2="108.10" stroke="#1a1a1a" stroke-width="1.3" stroke-linecap="round"/>
<clipPath id="cpA"><rect x="20" y="20.6" width="172.5" height="116"/></clipPath>
<g clip-path="url(#cpA)">
<path d="M26.5,18.0 Q26.8,30.0 27.0,38.0 L27.2,46.0" fill="none" stroke="#e2b21c" stroke-width="1.6" stroke-linecap="round" stroke-linejoin="round" />
<path d="M23.5,64.0 Q22.5,72.0 21.2,76.0 L20.0,80.0" fill="none" stroke="#e0501c" stroke-width="1.7" stroke-linecap="round" stroke-linejoin="round" />
<path d="M35.0,70.0 Q33.0,82.0 32.5,91.0 Q32.0,100.0 31.5,106.0 Q31.0,112.0 29.0,114.5 Q27.0,117.0 24.0,117.5 L21.0,118.0" fill="none" stroke="#e2561a" stroke-width="1.8" stroke-linecap="round" stroke-linejoin="round" />
<path d="M61.0,66.0 Q54.0,80.0 52.0,89.0 Q50.0,98.0 50.0,105.0 Q50.0,112.0 53.0,115.5 Q56.0,119.0 60.0,116.5 Q64.0,114.0 67.0,107.0 Q70.0,100.0 72.0,93.0 Q74.0,86.0 76.5,80.0 L79.0,74.0" fill="none" stroke="#e6d21e" stroke-width="1.9" stroke-linecap="round" stroke-linejoin="round" />
<path d="M60.0,21.0 Q70.0,22.0 72.0,26.0 Q74.0,30.0 73.0,37.0 L72.0,44.0" fill="none" stroke="#e27a1a" stroke-width="1.5" stroke-linecap="round" stroke-linejoin="round" />
<path d="M78.0,19.0 Q72.0,30.0 69.0,35.0 Q66.0,40.0 64.0,44.0 L62.0,48.0" fill="none" stroke="#3cb43c" stroke-width="1.8" stroke-linecap="round" stroke-linejoin="round" />
<path d="M115.5,18.0 Q117.0,30.0 120.0,36.0 Q123.0,42.0 125.5,47.0 Q128.0,52.0 129.0,57.5 L130.0,63.0" fill="none" stroke="#40c4de" stroke-width="1.9" stroke-linecap="round" stroke-linejoin="round" />
<path d="M99.2,64.2 Q112.0,56.0 118.7,53.1 Q125.4,50.3 128.7,48.6 L132.0,47.0" fill="none" stroke="#c4d42a" stroke-width="1.5" stroke-linecap="round" stroke-linejoin="round" />
<path d="M140.0,72.0 Q155.3,67.0 162.1,63.6 Q168.8,60.2 171.9,58.6 L175.0,57.0" fill="none" stroke="#3cb43c" stroke-width="1.4" stroke-linecap="round" stroke-linejoin="round" />
<path d="M192.5,76.0 Q184.0,84.0 181.0,90.0 Q178.0,96.0 175.0,103.0 Q172.0,110.0 168.5,115.0 Q165.0,120.0 161.5,121.5 L158.0,123.0" fill="none" stroke="#2a86d6" stroke-width="1.9" stroke-linecap="round" stroke-linejoin="round" />
<path d="M97.5,84.0 Q96.5,103.4 98.4,110.3 Q100.3,117.2 104.2,120.7 Q108.0,124.2 111.8,123.4 Q115.7,122.6 116.5,118.4 Q117.2,114.2 117.6,107.1 Q118.0,100.0 118.5,95.0 Q119.0,90.0 121.5,87.0 L124.0,84.0" fill="none" stroke="#34b23c" stroke-width="2.1" stroke-linecap="round" stroke-linejoin="round" />
<defs><linearGradient id="gdk" x1="0" y1="0" x2="1" y2="0"><stop offset="0" stop-color="#3a3e4a"/><stop offset="0.5" stop-color="#84868e"/><stop offset="1" stop-color="#44464f"/></linearGradient><linearGradient id="gdk2" x1="0" y1="0" x2="1" y2="1"><stop offset="0" stop-color="#3a3a40"/><stop offset="0.6" stop-color="#78787e"/><stop offset="1" stop-color="#3a3a40"/></linearGradient><linearGradient id="gyl" x1="0" y1="0" x2="0.3" y2="1"><stop offset="0" stop-color="#e6c43a"/><stop offset="0.7" stop-color="#c9a024"/><stop offset="1" stop-color="#8a6a10"/></linearGradient><linearGradient id="gbr" x1="0" y1="0" x2="0.4" y2="1"><stop offset="0" stop-color="#a87028"/><stop offset="1" stop-color="#6a4414"/></linearGradient><linearGradient id="ggr" x1="0" y1="0" x2="1" y2="1"><stop offset="0" stop-color="#5ccc4a"/><stop offset="1" stop-color="#2e9a2c"/></linearGradient></defs>
<path d="M57.1,21.1 L63.2,22.6 L65.5,28.0 L64.8,34.9 L61.7,39.5 L57.1,40.7 L52.5,39.5 L54.8,38.4 L58.6,37.2 L61.7,33.4 L61.7,28.0 L59.4,24.2 L56.0,21.5Z" fill="#2a2420" stroke="#e8901c" stroke-width="1.0" stroke-linejoin="round" />
<path d="M39.0,20.9 L48.6,20.9 L45.5,21.8 L43.2,24.2 L42.5,27.2 L42.8,30.3 L45.5,32.6 L43.2,33.0 L40.2,31.5 L38.5,28.0 L38.2,24.2Z" fill="#1e2230" stroke="#e8901c" stroke-width="1.0" stroke-linejoin="round" />
<ellipse cx="49.8" cy="28" rx="5.4" ry="6.4" transform="rotate(30 49.8 28)" fill="#8a5a1e" stroke="#e8901c" stroke-width="1"/>
<ellipse cx="49.2" cy="27.4" rx="2.4" ry="3.8" transform="rotate(30 49.2 27.4)" fill="#1e2430"/>
<path d="M52.5,20.4 L59.4,20.4 L58.5,26.0 L55.0,32.0 L51.0,36.0 L46.5,36.5 L45.0,34.0 L48.5,30.5 L51.0,26.0Z" fill="url(#gbr)" stroke="#e8901c" stroke-width="0.8" stroke-linejoin="round" />
<ellipse cx="57.2" cy="36.2" rx="3.3" ry="2.0" transform="rotate(-20 57.2 36.2)" fill="#fff"/>
<path d="M47.5,57.0 L54.7,57.0 L55.5,62.5 L48.0,63.0Z" fill="#3a3a40" stroke="#d8b828" stroke-width="0.6" stroke-linejoin="round" />
<path d="M20.5,49.4 L24.9,47.1 L29.9,45.8 L35.4,45.8 L39.3,47.4 L41.3,49.9 L37.9,50.9 L32.9,49.9 L28.9,50.4 L25.9,52.9 L24.9,56.9 L25.1,64.8 L23.0,66.0 L20.5,64.8Z" fill="url(#gdk)" stroke="none" stroke-width="1.0" stroke-linejoin="round" />
<path d="M20.0,50.0 L24.9,46.6 L29.9,45.3 L35.4,45.3 L39.5,47.0 L42.0,50.0" fill="none" stroke="#e8c020" stroke-width="1.4" stroke-linejoin="round" stroke-linecap="round"/>
<path d="M41.3,50.4 L37.9,51.4 L32.9,50.4 L28.9,50.9 L26.2,53.3 L25.4,57.0 L25.6,64.8 L23.0,66.3" fill="none" stroke="#d8b020" stroke-width="1.0" stroke-linejoin="round" stroke-linecap="round"/>
<path d="M40.8,49.4 L44.8,50.9 L48.8,54.4 L50.8,58.9 L50.8,64.8 L48.8,69.8 L45.8,73.7 L41.8,74.7 L36.9,73.7 L33.4,71.8 L32.9,69.8 L35.4,64.8 L38.8,60.3 L41.3,58.9 L41.8,53.9Z" fill="url(#gyl)" stroke="#e8c020" stroke-width="0.9" stroke-linejoin="round" />
<path d="M33.9,69.8 L34.4,65.8 L36.9,62.3 L39.3,60.3 L40.3,61.3 L39.3,65.8 L37.4,69.8 L34.9,71.8Z" fill="#3a3d48" stroke="none" stroke-width="1.0" stroke-linejoin="round" />
<path d="M88.5,62.0 L98.5,62.5 L99.0,68.2 L90.0,68.5Z" fill="#404044" stroke="none" stroke-width="1.0" stroke-linejoin="round" />
<path d="M63.5,45.3 L70.8,44.3 L77.1,43.2 L80.2,44.3 L79.2,49.5 L76.0,52.6 L70.8,53.6 L65.6,54.7 L63.5,51.5Z" fill="url(#gdk2)" stroke="none" stroke-width="1.0" stroke-linejoin="round" />
<path d="M52.1,47.9 L56.3,45.8 L62.5,43.7 L64.6,42.7 L65.6,44.3 L63.5,47.4 L60.4,50.5 L57.3,52.6 L55.7,53.6 L54.2,51.5Z" fill="#44b83c" stroke="#2e9a2c" stroke-width="0.6" stroke-linejoin="round" />
<path d="M62.5,43.7 L70.8,42.4 L77.1,41.8 L81.3,43.2" fill="none" stroke="#3cb43a" stroke-width="2.2" stroke-linejoin="round" stroke-linecap="round"/>
<path d="M75.0,68.2 L81.3,72.4 L86.5,69.3 L90.6,64.0 L99.0,63.0 L99.0,68.2 L91.7,70.3 L86.5,73.4 L80.2,75.5 L76.0,73.4Z" fill="#38ae36" stroke="none" stroke-width="1.0" stroke-linejoin="round" />
<path d="M77.1,42.2 L81.3,42.7 L85.4,47.4 L88.8,53.6 L89.6,59.9 L88.0,64.0 L84.4,67.2 L78.1,69.3 L74.0,68.2 L72.4,66.1 L76.0,64.0 L78.1,60.9 L79.7,55.7 L80.2,49.5 L78.6,44.8Z" fill="url(#ggr)" stroke="#2e9a2c" stroke-width="0.5" stroke-linejoin="round" />
<path d="M110.0,21.5 L117.0,25.0 L125.6,31.0 L129.0,40.0 L126.0,49.0 L122.0,47.0 L124.5,41.0 L122.0,34.0 L115.0,29.0Z" fill="#2e2e30" stroke="#a8cc30" stroke-width="0.9" stroke-linejoin="round" />
<ellipse cx="115.00" cy="43.50" rx="8.20" ry="4.80" transform="rotate(-55 115.00 43.50)" fill="#3e7425"/>
<ellipse cx="114.45" cy="42.90" rx="8.20" ry="4.80" transform="rotate(-55 114.45 42.90)" fill="#437d28"/>
<ellipse cx="113.90" cy="42.30" rx="8.20" ry="4.80" transform="rotate(-55 113.90 42.30)" fill="#48872b"/>
<ellipse cx="113.35" cy="41.70" rx="8.20" ry="4.80" transform="rotate(-55 113.35 41.70)" fill="#4d902e"/>
<ellipse cx="112.80" cy="41.10" rx="8.20" ry="4.80" transform="rotate(-55 112.80 41.10)" fill="#529a31"/>
<ellipse cx="112.25" cy="40.50" rx="8.20" ry="4.80" transform="rotate(-55 112.25 40.50)" fill="#57a334"/>
<ellipse cx="111.70" cy="39.90" rx="8.20" ry="4.80" transform="rotate(-55 111.70 39.90)" fill="#5cac37"/>
<ellipse cx="111.15" cy="39.30" rx="8.20" ry="4.80" transform="rotate(-55 111.15 39.30)" fill="#61b63a"/>
<ellipse cx="110.60" cy="38.70" rx="8.20" ry="4.80" transform="rotate(-55 110.60 38.70)" fill="#67bd3f"/>
<ellipse cx="110.05" cy="38.10" rx="8.20" ry="4.80" transform="rotate(-55 110.05 38.10)" fill="#6ec049"/>
<ellipse cx="109.50" cy="37.50" rx="8.20" ry="4.80" transform="rotate(-55 109.50 37.50)" fill="#76c453"/>
<defs><linearGradient id="g57139" x1="0" y1="0" x2="1" y2="1"><stop offset="0" stop-color="#262627"/><stop offset="0.55" stop-color="#7d7d7e"/><stop offset="1" stop-color="#313132"/></linearGradient></defs>
<ellipse cx="109.50" cy="37.50" rx="8.20" ry="4.80" transform="rotate(-55 109.50 37.50)" fill="url(#g57139)" stroke="#6bbf45" stroke-width="1.0"/>
<ellipse cx="102.50" cy="34.00" rx="8.80" ry="5.00" transform="rotate(-50 102.50 34.00)" fill="#3e7425"/>
<ellipse cx="101.95" cy="33.35" rx="8.80" ry="5.00" transform="rotate(-50 101.95 33.35)" fill="#437d28"/>
<ellipse cx="101.40" cy="32.70" rx="8.80" ry="5.00" transform="rotate(-50 101.40 32.70)" fill="#48872b"/>
<ellipse cx="100.85" cy="32.05" rx="8.80" ry="5.00" transform="rotate(-50 100.85 32.05)" fill="#4d902e"/>
<ellipse cx="100.30" cy="31.40" rx="8.80" ry="5.00" transform="rotate(-50 100.30 31.40)" fill="#529a31"/>
<ellipse cx="99.75" cy="30.75" rx="8.80" ry="5.00" transform="rotate(-50 99.75 30.75)" fill="#57a334"/>
<ellipse cx="99.20" cy="30.10" rx="8.80" ry="5.00" transform="rotate(-50 99.20 30.10)" fill="#5cac37"/>
<ellipse cx="98.65" cy="29.45" rx="8.80" ry="5.00" transform="rotate(-50 98.65 29.45)" fill="#61b63a"/>
<ellipse cx="98.10" cy="28.80" rx="8.80" ry="5.00" transform="rotate(-50 98.10 28.80)" fill="#67bd3f"/>
<ellipse cx="97.55" cy="28.15" rx="8.80" ry="5.00" transform="rotate(-50 97.55 28.15)" fill="#6ec049"/>
<ellipse cx="97.00" cy="27.50" rx="8.80" ry="5.00" transform="rotate(-50 97.00 27.50)" fill="#76c453"/>
<defs><linearGradient id="g12839" x1="0" y1="0" x2="1" y2="1"><stop offset="0" stop-color="#262627"/><stop offset="0.55" stop-color="#7d7d7e"/><stop offset="1" stop-color="#313132"/></linearGradient></defs>
<ellipse cx="97.00" cy="27.50" rx="8.80" ry="5.00" transform="rotate(-50 97.00 27.50)" fill="url(#g12839)" stroke="#6bbf45" stroke-width="1.0"/>
<path d="M115.5,18.0 Q117.0,30.0 120.0,36.0 Q123.0,42.0 125.5,47.0 Q128.0,52.0 129.0,57.5 L130.0,63.0" fill="none" stroke="#40c4de" stroke-width="1.9" stroke-linecap="round" stroke-linejoin="round" />
<defs><linearGradient id="gtl" x1="0" y1="0" x2="1" y2="1"><stop offset="0" stop-color="#4cc4a0"/><stop offset="1" stop-color="#26907a"/></linearGradient><linearGradient id="gbl" x1="0" y1="0" x2="1" y2="1"><stop offset="0" stop-color="#3444b0"/><stop offset="1" stop-color="#1e2a88"/></linearGradient><linearGradient id="gdk3" x1="0" y1="0" x2="1" y2="0"><stop offset="0" stop-color="#34343a"/><stop offset="0.4" stop-color="#808086"/><stop offset="1" stop-color="#2e2e32"/></linearGradient></defs>
<path d="M152.0,23.9 L160.0,23.0 L164.5,25.5 L164.0,30.7 L158.0,29.5 L152.0,30.7Z" fill="#3c3c40" stroke="none" stroke-width="1.0" stroke-linejoin="round" />
<path d="M152.0,36.0 L160.0,38.5 L167.0,38.5" fill="none" stroke="#2aa07a" stroke-width="1.8" stroke-linejoin="round" stroke-linecap="round"/>
<path d="M162.0,29.8 L166.0,31.0 L168.8,36.0 L168.0,41.6 L165.0,41.0 L164.5,35.0Z" fill="#2aa88a" stroke="none" stroke-width="1.0" stroke-linejoin="round" />
<path d="M134.2,34.0 L136.8,28.1 L141.8,23.9 L145.2,20.4 L152.0,20.4 L151.1,25.6 L150.3,31.5 L146.9,36.6 L143.5,40.0 L140.1,42.5 L136.8,40.0Z" fill="url(#gtl)" stroke="#2a9a7c" stroke-width="0.6" stroke-linejoin="round" />
<path d="M137.5,31.0 L141.0,28.5 L145.0,28.8 L145.5,32.5 L142.0,36.4 L138.0,36.0Z" fill="#38383e" stroke="none" stroke-width="1.0" stroke-linejoin="round" />
<path d="M166.3,20.2 L162.0,26.0 L158.7,31.5 L153.6,40.0 L150.5,46.0" fill="none" stroke="#2b3aa0" stroke-width="2.4" stroke-linejoin="round" stroke-linecap="round"/>
<path d="M151.0,47.0 L160.0,44.5 L169.0,43.0 L173.0,47.0 L174.0,55.0 L172.0,60.0 L165.0,61.0 L157.0,60.0 L152.5,58.0Z" fill="url(#gdk3)" stroke="none" stroke-width="1.0" stroke-linejoin="round" />
<path d="M180.0,58.0 L186.0,59.0 L192.0,61.0 L192.0,76.0 L186.0,77.0 L181.0,72.0Z" fill="#3a3a3e" stroke="none" stroke-width="1.0" stroke-linejoin="round" />
<path d="M138.8,52.0 L150.0,45.0 L160.0,41.2 L170.0,39.5 L174.0,43.5 L161.0,47.5 L154.0,51.0 L152.0,56.0 L153.5,62.0 L146.0,58.5Z" fill="url(#gbl)" stroke="#1e2a88" stroke-width="0.5" stroke-linejoin="round" />
<path d="M168.0,41.6 L172.2,43.3 L179.0,51.8 L182.3,60.2 L180.6,68.7 L175.6,77.1 L168.8,80.5 L162.1,73.7 L163.8,72.0 L172.2,68.7 L173.9,60.2 L171.4,51.8 L167.5,46.0Z" fill="url(#gbl)" stroke="#1e2a88" stroke-width="0.5" stroke-linejoin="round" />
<path d="M181.0,60.0 L186.0,59.5 L192.0,61.0" fill="none" stroke="#2b3aa0" stroke-width="1.4" stroke-linejoin="round" stroke-linecap="round"/>
<path d="M181.0,72.0 L186.0,77.0 L192.0,76.5" fill="none" stroke="#2b3aa0" stroke-width="1.2" stroke-linejoin="round" stroke-linecap="round"/>
<path d="M192.5,20.5 L187.0,22.0 L183.5,26.0 L183.0,31.0 L185.5,35.0 L192.5,37.0Z" fill="#3a3a40" stroke="#2b3aa0" stroke-width="1.2" stroke-linejoin="round" />
<path d="M125,82 C126,72 133,64 142,63 C150,62 156,66 157,72 C150,69 143,69 137,72 C131,75 128,79 126,84 Z" fill="#4a4a4c"/>
<path d="M125,86 C124,76 130,66 138,63.5" fill="none" stroke="#2aa0a8" stroke-width="3.6"/>
<path d="M138,63.5 C148,61.5 157,66 158,75 C158.5,82 156,88 152,92" fill="none" stroke="#2aa0a8" stroke-width="1.8"/>
<path d="M97,66 L103,65 L112,77 L119,89 L114,91 L108,88 L100,76 Z" fill="none" stroke="#e01e1e" stroke-width="3.0" stroke-linejoin="round"/>
<path d="M100,66 L96,64" stroke="#e01e1e" stroke-width="2.2"/>
<path d="M134.5,86 L150,84.6 L156.5,85.5 L155.5,93.5 L140,93.8 L134.2,91 Z" fill="none" stroke="#e01e1e" stroke-width="2.9" stroke-linejoin="round"/>
<line x1="118.00" y1="90.00" x2="123.50" y2="95.40" stroke="#d8c020" stroke-width="2.4" />
<line x1="123.50" y1="95.40" x2="120.00" y2="101.00" stroke="#e02020" stroke-width="2.0" />
<line x1="123.50" y1="95.40" x2="127.00" y2="91.00" stroke="#e02020" stroke-width="2.0" />
<line x1="123.50" y1="95.40" x2="130.00" y2="95.00" stroke="#3040c0" stroke-width="2.0" />
<line x1="130.00" y1="95.00" x2="134.50" y2="91.00" stroke="#3040c0" stroke-width="2.0" />
<path d="M130.0,64.0 Q133.0,76.0 135.5,78.0 Q138.0,80.0 142.0,79.5 L146.0,79.0" fill="none" stroke="#46c8e0" stroke-width="2.7" stroke-linecap="round" stroke-linejoin="round" />
<path d="M137.0,80.0 L136.0,88.0" fill="none" stroke="#46c8e0" stroke-width="2.0" stroke-linecap="round" stroke-linejoin="round" />
<path d="M142.0,70.0 Q146.0,79.0 147.0,82.5 L148.0,86.0" fill="none" stroke="#46c8e0" stroke-width="2.6" stroke-linecap="round" stroke-linejoin="round" />
<path d="M118.8,109.5 Q125.0,106.5 128.8,108.4 Q132.6,110.3 136.4,107.7 Q140.3,105.0 143.4,104.2 Q146.5,103.4 148.0,108.8 L149.5,114.2" fill="none" stroke="#46c8e0" stroke-width="2.8" stroke-linecap="round" stroke-linejoin="round" />
<path d="M143.0,128.0 L150.0,117.5 L157.0,120.0 L158.0,130.0 L150.0,134.0Z" fill="none" stroke="#3cbcd8" stroke-width="2.6" stroke-linejoin="round" />
<line x1="149.50" y1="114.20" x2="150.00" y2="117.50" stroke="#46c8e0" stroke-width="2.4" />
<line x1="146.00" y1="127.00" x2="155.00" y2="128.00" stroke="#2a34c8" stroke-width="1.8" />
<line x1="152.00" y1="95.00" x2="156.00" y2="106.00" stroke="#46c8e0" stroke-width="2.0" />
<path d="M93.0,86.0 Q99.0,80.0 102.5,81.5 Q106.0,83.0 106.5,88.0 Q107.0,93.0 104.0,96.0 Q101.0,99.0 97.5,97.0 Q94.0,95.0 93.5,90.5 L93.0,86.0" fill="none" stroke="#3cba3c" stroke-width="2.4" stroke-linecap="round" stroke-linejoin="round" />
<line x1="100.00" y1="97.00" x2="101.00" y2="104.00" stroke="#3cba3c" stroke-width="2.0" />
<path d="M62.0,52.6 Q66.0,60.0 68.4,65.7 L70.8,71.3" fill="none" stroke="#2a34c8" stroke-width="2.1" stroke-linecap="round" stroke-linejoin="round" />
<path d="M59.5,57.0 Q64.0,64.5 66.5,68.2 L69.0,72.0" fill="none" stroke="#2a34c8" stroke-width="2.1" stroke-linecap="round" stroke-linejoin="round" />
<path d="M70.8,66.1 L79.2,68.2" fill="none" stroke="#2a34c8" stroke-width="2.1" stroke-linecap="round" stroke-linejoin="round" />
<path d="M97.2,109.5 Q103.0,106.0 106.2,104.7 Q109.5,103.4 112.2,105.0 Q115.0,106.5 116.9,108.0 L118.8,109.5" fill="none" stroke="#2a34c8" stroke-width="2.1" stroke-linecap="round" stroke-linejoin="round" />
<path d="M103.0,106.0 L104.0,100.0" fill="none" stroke="#2a34c8" stroke-width="2.1" stroke-linecap="round" stroke-linejoin="round" />
<path d="M103.0,106.0 L106.0,113.0" fill="none" stroke="#2a34c8" stroke-width="2.1" stroke-linecap="round" stroke-linejoin="round" />
<line x1="62.50" y1="53.50" x2="64.50" y2="57.50" stroke="#f0f0f0" stroke-width="2.0" />
<line x1="66.50" y1="61.00" x2="68.00" y2="64.50" stroke="#f0f0f0" stroke-width="2.0" />
<line x1="60.00" y1="58.00" x2="61.50" y2="61.00" stroke="#f0f0f0" stroke-width="2.0" />
<line x1="64.50" y1="65.00" x2="66.20" y2="68.00" stroke="#f0f0f0" stroke-width="2.0" />
<line x1="73.00" y1="66.60" x2="75.50" y2="67.20" stroke="#f0f0f0" stroke-width="2.0" />
<line x1="103.60" y1="98.00" x2="105.50" y2="95.50" stroke="#f0f0f0" stroke-width="2.0" />
<line x1="105.50" y1="112.00" x2="107.00" y2="115.00" stroke="#f0f0f0" stroke-width="2.0" />
<line x1="96.00" y1="110.00" x2="98.50" y2="112.00" stroke="#f0f0f0" stroke-width="2.0" />
<circle cx="125" cy="98" r="1.3" fill="#e8e8e8"/>
<circle cx="131" cy="103" r="1.3" fill="#e8e8e8"/>
<circle cx="66" cy="55" r="1.3" fill="#e8e8e8"/>
<circle cx="71" cy="72" r="1.3" fill="#e8e8e8"/>
<line x1="77.00" y1="65.70" x2="97.00" y2="65.70" stroke="#2a3ad0" stroke-width="1.0" stroke-dasharray="1.3,1.1"/>
<line x1="104.00" y1="72.00" x2="106.00" y2="100.00" stroke="#2a3ad0" stroke-width="1.0" stroke-dasharray="1.3,1.1"/>
<line x1="153.00" y1="95.00" x2="154.00" y2="115.00" stroke="#3cc03c" stroke-width="1.0" stroke-dasharray="1.3,1.1"/>
<circle cx="54" cy="47" r="1.4" fill="#e02020"/>
<circle cx="61" cy="55" r="1.4" fill="#e02020"/>
<circle cx="79" cy="57" r="1.4" fill="#e02020"/>
<circle cx="85" cy="70" r="1.4" fill="#e02020"/>
<circle cx="79" cy="75" r="1.4" fill="#e02020"/>
<circle cx="117.5" cy="64" r="1.4" fill="#e02020"/>
<circle cx="160" cy="103" r="1.4" fill="#e02020"/>
<circle cx="139" cy="80" r="1.4" fill="#e02020"/>
<circle cx="127" cy="91" r="1.4" fill="#e02020"/>
<circle cx="120" cy="101" r="1.4" fill="#e02020"/>
<circle cx="152" cy="96" r="1.4" fill="#e02020"/>
<circle cx="145" cy="136" r="1.4" fill="#e02020"/>
</g>
<rect x="0.00" y="0.00" width="520.00" height="1.20" fill="#000" stroke="none" stroke-width="1" />
<rect x="0.00" y="401.30" width="520.00" height="1.70" fill="#000" stroke="none" stroke-width="1" />
<rect x="0.00" y="0.00" width="1.40" height="403.00" fill="#000" stroke="none" stroke-width="1" />
<rect x="518.30" y="0.00" width="1.70" height="403.00" fill="#000" stroke="none" stroke-width="1" />
</svg>
</body></html>
